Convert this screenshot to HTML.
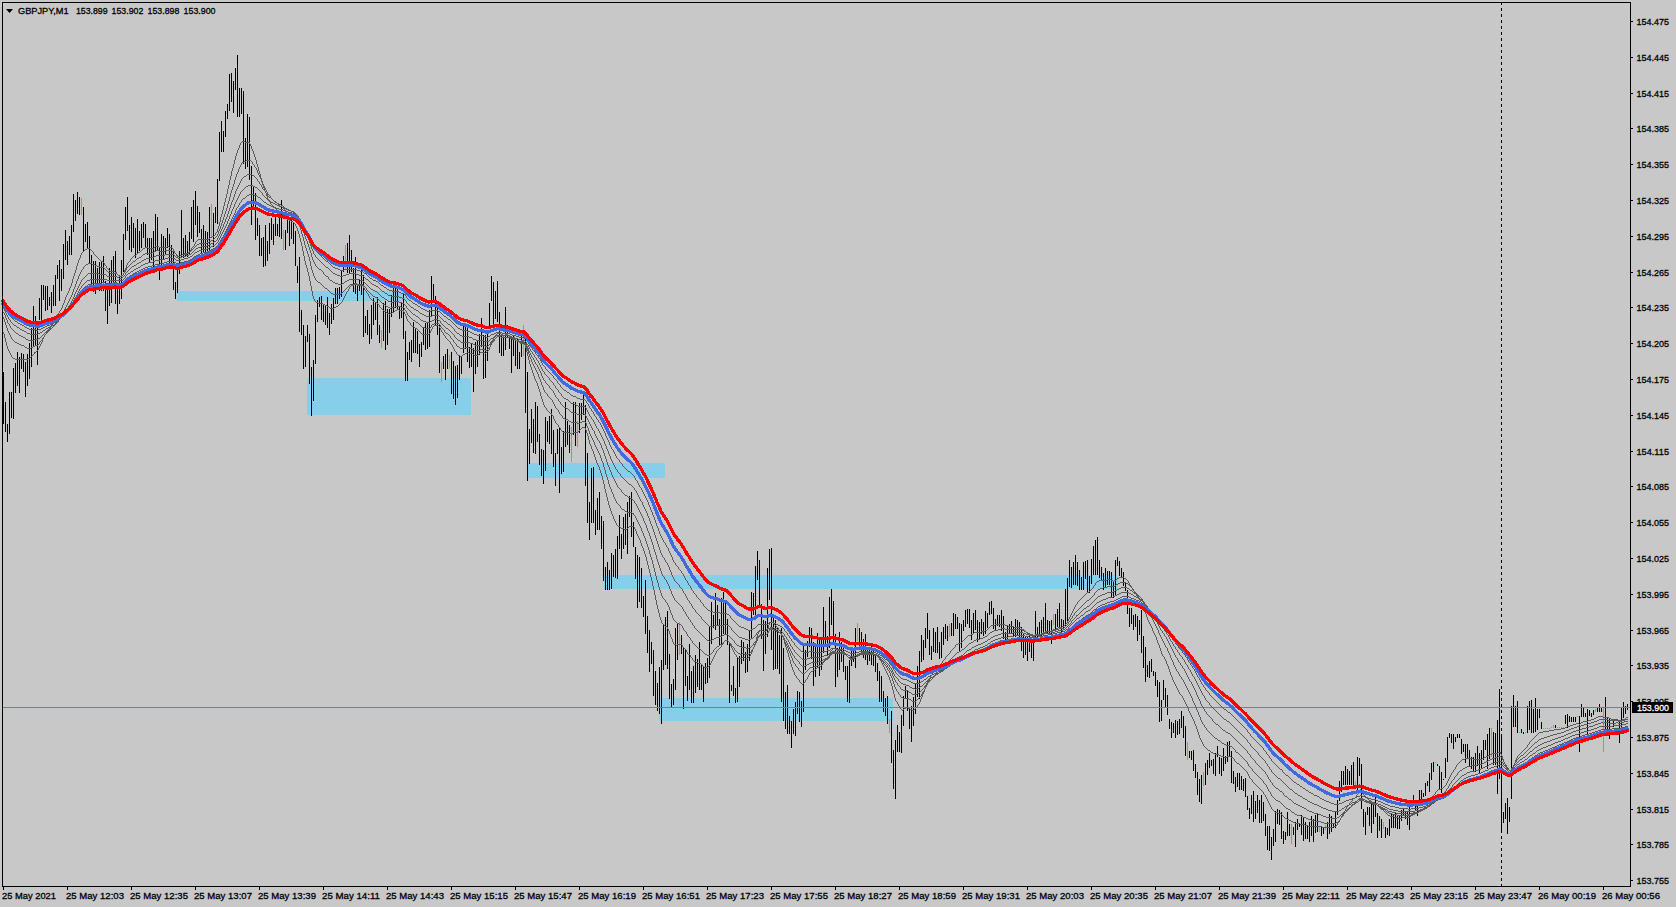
<!DOCTYPE html>
<html><head><meta charset="utf-8"><title>GBPJPY,M1</title>
<style>html,body{margin:0;padding:0;background:#c8c8c8;overflow:hidden}svg{display:block}text{font-family:"Liberation Sans",sans-serif;font-size:9.4px;fill:#000;stroke:#000;stroke-width:.3px}</style></head><body>
<svg width="1676" height="907" viewBox="0 0 1676 907">
<rect width="1676" height="907" fill="#c8c8c8"/>
<g fill="#87ceeb" shape-rendering="crispEdges"><rect x="177" y="291" width="233" height="10"/><rect x="307" y="378" width="164" height="37"/><rect x="527" y="463" width="138" height="15"/><rect x="604" y="575" width="514" height="14"/><rect x="659" y="698" width="234" height="23"/></g>
<path d="M3 372v52M5 402v30M7 424v18M9 392v42M11 392v26M13 368v51M15 363v30M17 352v34M19 357v36M21 353v16M23 354v18M25 362v35M27 354v32M29 343v36M31 328v39M33 306v41M35 316v29M37 326v39M39 298v22M41 285v35M43 285v15M45 286v25M47 286v24M49 297v9M51 292v21M53 285v21M55 275v31M57 265v14M59 260v41M61 269v22M63 244v35M65 230v30M67 241v24M69 236v19M71 225v30M73 194v38M75 200v21M77 192v22M79 197v18M83 207v45M85 224v18M87 222v27M89 236v27M91 255v31M93 261v31M95 261v33M97 268v21M99 262v29M101 262v29M103 256v35M105 281v30M107 284v40M109 268v38M111 260v43M113 256v27M115 251v53M117 287v27M119 277v27M121 260v39M123 234v38M125 207v33M127 197v34M129 225v25M131 217v35M133 223v25M135 228v30M137 219v34M139 231v20M141 224v24M143 222v16M145 224v24M147 238v17M149 238v24M151 238v22M153 231v36M155 214v37M157 217v33M159 247v33M161 234v31M163 236v24M165 238v16M167 228v20M169 234v29M171 245v24M173 250v40M175 282v17M177 267v26M179 251v23M181 210v47M183 238v20M185 235v22M187 241v16M189 232v22M191 207v32M193 200v42M195 191v34M197 206v31M199 212v21M201 229v27M203 225v28M205 231v23M207 232v23M209 207v45M213 213v34M215 207v16M217 179v45M219 132v49M221 121v31M223 131v21M225 111v26M227 104v15M229 74v37M231 73v29M233 81v32M235 68v22M237 55v62M239 88v29M241 88v26M243 91v73M245 138v31M247 114v53M249 117v63M251 166v59M253 186v24M255 193v47M257 218v18M259 225v31M261 238v18M263 237v30M265 225v41M267 241v20M269 223v31M271 218v22M273 224v21M275 217v19M277 224v12M279 217v20M281 200v39M285 230v20M287 219v14M289 220v26M291 220v19M293 222v22M295 231v35M297 266v17M299 257v75M301 310v25M303 325v44M305 336v31M307 325v17M309 334v50M311 367v49M313 360v41M315 315v49M317 300v22M319 297v10M321 296v24M323 304v18M325 306v19M327 297v31M329 313v22M331 304v20M333 298v22M335 288v16M337 288v16M339 287v12M341 271v26M343 256v16M347 243v30M349 235v38M351 250v22M353 268v24M355 257v37M357 285v16M359 280v11M361 269v26M363 275v62M365 316v17M367 310v25M369 324v20M371 305v34M373 298v27M375 302v18M377 297v38M379 325v18M383 303v38M385 301v49M387 309v36M389 309v24M391 295v22M393 288v24M395 285v23M397 289v21M399 306v13M401 303v15M403 293v46M405 331v50M407 352v29M409 342v18M411 340v22M413 322v31M415 329v24M417 331v23M419 344v23M421 342v15M423 328v17M425 323v27M427 322v27M429 310v37M431 276v41M433 284v19M435 296v29M437 304v31M439 325v48M443 356v13M445 354v26M447 349v20M451 352v42M453 361v38M455 366v39M457 365v33M459 355v25M461 356v18M463 326v27M465 326v23M467 328v34M469 347v21M471 344v23M473 348v44M475 342v32M477 340v27M479 334v21M481 318v29M483 335v44M485 335v43M487 334v27M489 303v24M491 276v25M493 282v43M495 291v28M497 281v41M499 312v41M501 335v21M503 337v19M505 307v43M507 325v13M509 338v11M511 338v35M513 335v21M515 340v26M517 339v30M519 352v17M521 335v22M525 334v79M527 372v109M529 429v35M531 409v34M533 419v34M535 402v52M537 406v36M539 434v31M541 449v27M543 450v34M545 417v54M547 421v21M549 416v28M551 409v45M553 430v37M555 453v33M557 429v25M559 428v65M561 447v27M563 431v41M565 402v45M567 421v24M569 425v28M573 402v33M575 402v44M579 403v30M581 403v17M583 395v20M585 405v81M587 453v70M589 502v38M591 468v55M593 467v56M595 510v25M597 498v32M599 492v38M601 516v33M603 521v60M605 567v23M607 562v28M609 570v20M611 553v36M613 555v22M615 549v29M617 536v43M619 515v34M621 534v25M623 517v32M625 514v31M627 502v52M629 496v21M631 492v45M633 522v25M635 547v32M637 555v53M639 557v45M641 568v40M643 596v21M645 580v54M647 616v37M649 630v42M651 642v22M653 650v46M655 671v34M657 683v28M659 667v47M661 660v64M663 624v46M665 617v48M667 611v58M669 654v45M671 684v23M673 679v26M675 628v62M677 624v36M681 635v19M683 647v62M685 650v36M687 676v25M689 644v46M691 671v32M693 666v37M695 655v38M697 659v28M699 642v48M701 665v25M703 667v35M705 663v21M707 658v25M709 627v51M711 602v42M713 615v13M715 593v37M717 605v20M719 619v26M721 598v47M723 592v42M725 600v34M727 619v26M729 642v61M731 685v6M733 666v30M735 688v15M737 658v44M739 656v31M741 640v24M743 642v19M745 652v21M747 644v28M749 630v31M751 592v47M753 593v22M755 566v49M757 551v29M759 560v48M761 604v35M763 620v51M765 621v33M767 568v69M769 549v51M771 548v102M773 617v53M775 620v49M777 628v41M779 635v39M781 628v74M783 648v73M785 692v37M787 685v49M789 716v18M791 721v27M793 709v25M795 702v34M797 691v23M799 692v30M801 701v26M803 645v67M805 650v20M807 641v16M809 627v20M811 628v31M813 642v44M815 645v32M817 633v34M819 637v39M821 639v31M823 607v46M825 621v26M827 636v19M829 597v51M831 589v36M833 601v42M835 634v53M837 648v29M839 632v38M841 642v20M843 648v24M845 666v14M847 666v36M849 660v43M851 651v15M853 648v14M855 628v40M859 628v22M861 632v22M863 639v19M865 634v26M867 650v15M869 650v11M871 645v20M873 650v16M875 654v18M877 663v18M879 671v31M881 676v26M883 691v21M885 698v18M887 696v28M891 711v52M893 750v39M895 740v59M897 725v27M899 732v20M901 715v38M903 696v30M905 686v13M907 690v21M909 709v20M911 706v36M913 697v29M915 683v31M917 666v31M919 651v48M921 635v27M923 640v20M925 628v20M927 613v26M929 630v25M931 646v14M933 628v24M935 632v21M937 627v26M939 642v17M941 632v26M943 627v18M945 624v15M947 626v15M951 623v13M953 613v23M955 614v15M957 617v12M959 623v28M961 624v24M963 620v11M965 610v17M967 609v15M969 609v19M971 620v20M973 613v21M975 610v20M977 620v22M979 622v18M981 619v15M983 622v14M985 611v23M987 613v15M989 602v13M991 601v13M993 608v21M995 619v11M997 615v11M999 615v12M1001 610v21M1003 616v23M1005 632v8M1007 626v13M1009 624v10M1011 621v13M1013 627v10M1015 619v18M1017 620v15M1019 622v15M1021 627v24M1023 633v25M1025 636v19M1027 637v24M1029 636v16M1031 637v21M1033 636v25M1035 611v26M1037 627v10M1039 622v14M1041 620v16M1043 617v16M1045 603v29M1047 620v13M1049 621v13M1051 620v24M1055 614v15M1057 609v18M1059 603v24M1061 619v15M1063 620v9M1065 589v37M1067 578v43M1069 560v27M1071 567v21M1073 562v23M1075 555v30M1077 562v24M1079 570v20M1081 577v13M1083 562v28M1085 561v18M1087 560v32M1089 576v17M1091 559v25M1093 546v29M1095 540v35M1097 537v38M1099 560v18M1101 567v13M1103 573v17M1105 568v20M1107 571v14M1109 571v14M1111 572v25M1113 581v17M1115 560v35M1117 557v9M1119 561v15M1121 568v10M1123 572v14M1125 583v8M1127 590v24M1129 608v19M1131 608v16M1133 615v15M1135 614v13M1137 616v25M1139 620v15M1141 610v43M1143 636v32M1145 647v35M1147 665v12M1149 661v17M1151 659v13M1153 671v5M1155 672v14M1157 680v17M1159 682v40M1161 700v21M1163 680v20M1165 688v19M1167 695v20M1169 719v10M1171 722v16M1173 723v10M1175 720v18M1177 721v14M1179 719v15M1181 711v17M1183 716v22M1185 726v30M1189 751v7M1191 751v9M1193 750v21M1195 764v14M1197 772v23M1199 779v23M1201 775v29M1205 763v22M1207 760v15M1209 753v15M1211 760v6M1213 759v15M1215 753v23M1217 746v11M1219 757v17M1221 758v18M1223 748v23M1225 756v8M1227 742v20M1229 741v15M1231 751v32M1233 771v13M1235 777v15M1237 773v14M1239 773v17M1241 776v14M1243 779v12M1245 778v19M1247 796v14M1249 808v11M1251 795v19M1253 791v31M1255 801v18M1257 795v18M1259 800v23M1261 795v28M1263 802v19M1265 814v22M1267 826v24M1269 826v25M1271 837v23M1273 829v17M1275 811v31M1277 809v15M1279 810v15M1281 812v27M1283 831v13M1285 832v8M1287 812v24M1289 824v12M1293 827v8M1295 822v25M1297 819v11M1299 823v4M1301 815v20M1303 818v23M1305 822v17M1307 826v13M1309 822v20M1311 816v20M1313 819v23M1315 815v18M1317 814v18M1321 826v10M1323 828v6M1327 822v17M1329 814v20M1331 816v16M1333 824v4M1335 812v16M1337 800v15M1339 781v20M1341 771v21M1343 771v14M1345 766v19M1347 769v16M1349 771v14M1351 765v20M1353 762v23M1357 757v33M1359 758v18M1361 764v45M1363 809v18M1365 812v23M1367 807v8M1369 807v19M1371 802v31M1373 803v21M1375 796v21M1377 813v25M1379 816v15M1381 819v19M1385 827v11M1387 828v7M1389 819v17M1391 814v14M1393 814v14M1395 813v15M1397 815v14M1399 816v13M1401 810v11M1403 809v7M1405 812v7M1407 812v13M1409 802v28M1411 801v5M1413 795v10M1415 803v8M1417 803v13M1419 790v11M1421 790v11M1423 793v4M1425 783v13M1427 781v5M1429 773v19M1431 763v17M1433 762v10M1437 764v2M1439 766v23M1441 772v21M1443 779v1M1445 758v20M1447 737v25M1449 733v5M1451 734v9M1453 734v15M1455 737v5M1457 734v4M1459 734v4M1461 739v15M1463 744v8M1465 744v19M1467 744v15M1469 750v16M1471 757v12M1473 757v14M1475 753v19M1477 746v20M1479 753v20M1481 750v18M1483 740v20M1485 740v10M1487 734v35M1489 728v31M1493 732v33M1495 733v32M1497 720v74M1499 689v90M1501 737v96M1503 812v11M1505 803v16M1507 798v36M1509 807v15M1511 706v93M1513 695v32M1515 706v21M1517 701v32M1521 729v4M1523 732v2M1527 706v27M1529 701v29M1531 700v33M1533 709v24M1535 698v34M1537 709v21M1539 709v9M1541 722v7M1555 725v3M1565 715v9M1567 714v14M1569 716v6M1571 717v5M1573 717v5M1575 717v5M1579 716v36M1581 704v13M1583 707v10M1585 713v4M1587 709v25M1589 710v6M1591 713v4M1593 710v5M1597 707v5M1599 704v8M1601 707v5M1605 697v34M1607 717v14M1609 719v20M1613 720v7M1619 720v23M1621 707v21M1623 702v16M1625 706v8M1627 704v6" stroke="#000" stroke-width="1" fill="none" shape-rendering="crispEdges" transform="translate(.5 0)"/>
<path d="M81 198v17M211 204v33M283 230v20M345 245v24M381 330v18M441 362v20M449 355v14M523 325v31M571 427v35M577 421v26M679 622v33M857 623v18M889 719v14M949 624v13M1053 614v11M1187 742v18M1203 772v14M1291 824v20M1319 826v6M1325 825v5M1355 781v5M1383 822v7M1435 762v1M1491 728v29M1519 732v1M1525 732v1M1543 728v1M1545 728v1M1547 728v1M1549 728v1M1551 727v1M1553 725v3M1557 727v1M1559 727v1M1561 727v1M1563 727v1M1577 716v1M1595 709v3M1603 707v45M1611 726v1M1615 719v1M1617 720v1" stroke="#0f0" stroke-width="1" fill="none" shape-rendering="crispEdges" transform="translate(.5 0)"/>
<rect x="3" y="707" width="1627" height="1" fill="#708090" shape-rendering="crispEdges"/>
<path d="M1501.5 2V886" stroke="#000" stroke-width="1" stroke-dasharray="3 3" shape-rendering="crispEdges"/>
<g fill="none" stroke="#5a5a5a" stroke-width="1" shape-rendering="crispEdges" transform="translate(.5 0)"><path d="M3 332v2M4 334v4M5 338v4M6 342v4M7 346v3M8 349v2M9 351v2M10 353v2M11 355v2M12 357v1M13 358v1M14 358v1M15 359v1M16 359v1M17 359v1M18 359v1M19 359v1M20 359v1M21 359v1M22 359v1M23 359v1M24 359v1M25 359v1M26 359v1M27 359v1M28 358v1M29 358v1M30 357v1M31 356v1M32 355v1M33 354v1M34 352v2M35 352v1M36 351v1M37 350v1M38 348v2M39 346v2M40 344v2M41 342v2M42 339v3M43 337v2M44 335v2M45 334v1M46 332v2M47 330v2M48 329v1M49 328v1M50 326v2M51 325v1M52 324v1M53 322v2M54 321v1M55 319v2M56 316v3M57 314v2M58 313v1M59 311v2M60 310v1M61 308v2M62 305v3M63 303v2M64 300v3M65 297v3M66 295v2M67 293v2M68 291v2M69 288v3M70 286v2M71 283v3M72 279v4M73 276v3M74 273v3M75 270v3M76 266v4M77 263v3M78 260v3M79 258v2M80 255v3M81 253v2M82 252v1M83 251v1M84 250v1M85 249v1M86 249v1M87 248v1M88 248v1M89 248v1M90 249v1M91 250v1M92 251v1M93 252v2M94 254v1M95 255v1M96 256v1M97 257v1M98 258v1M99 259v1M100 260v1M101 261v1M102 261v1M103 262v1M104 263v2M105 265v1M106 266v2M107 268v1M108 269v1M109 270v1M110 271v1M111 271v1M112 271v1M113 271v1M114 271v1M115 272v1M116 272v2M117 274v1M118 275v1M119 276v1M120 276v1M121 276v1M122 275v1M123 273v2M124 270v3M125 268v2M126 265v3M127 263v2M128 262v1M129 261v1M130 259v2M131 258v1M132 257v1M133 256v1M134 255v1M135 255v1M136 254v1M137 253v1M138 252v1M139 252v1M140 251v1M141 250v1M142 249v1M143 248v1M144 248v1M145 247v1M146 247v1M147 247v1M148 248v1M149 248v1M150 248v1M151 248v1M152 248v1M153 248v1M154 247v1M155 246v1M156 246v1M157 246v1M158 246v1M159 247v1M160 247v1M161 247v1M162 247v1M163 247v1M164 247v1M165 247v1M166 247v1M167 246v1M168 246v1M169 247v1M170 247v1M171 247v1M172 248v1M173 249v2M174 251v2M175 253v1M176 254v2M177 256v1M178 256v1M179 256v1M180 255v1M181 255v1M182 254v1M183 254v1M184 253v1M185 253v1M186 253v1M187 253v1M188 252v1M189 251v1M190 250v1M191 248v2M192 247v1M193 246v1M194 244v2M195 242v2M196 241v1M197 240v1M198 239v1M199 239v1M200 239v1M201 239v1M202 239v1M203 239v1M204 239v1M205 239v1M206 239v1M207 239v1M208 239v1M209 238v1M210 237v1M211 237v1M212 236v1M213 236v1M214 235v1M215 233v2M216 232v1M217 229v3M218 226v3M219 222v4M220 217v5M221 214v3M222 210v4M223 206v4M224 202v4M225 198v4M226 194v4M227 189v5M228 185v4M229 180v5M230 176v4M231 171v5M232 168v3M233 164v4M234 160v4M235 156v4M236 153v3M237 150v3M238 148v2M239 145v3M240 143v2M241 142v1M242 141v1M243 141v1M244 141v1M245 142v1M246 142v1M247 142v1M248 142v1M249 142v2M250 144v2M251 146v3M252 149v2M253 151v3M254 154v3M255 157v3M256 160v4M257 164v3M258 167v4M259 171v3M260 174v4M261 178v3M262 181v4M263 185v3M264 188v3M265 191v2M266 193v3M267 196v3M268 199v2M269 201v1M270 202v2M271 204v1M272 205v1M273 206v1M274 207v1M275 208v1M276 209v1M277 210v1M278 211v1M279 212v1M280 213v1M281 213v1M282 214v1M283 215v1M284 216v1M285 217v1M286 218v1M287 219v1M288 219v1M289 220v1M290 220v1M291 221v1M292 221v1M293 222v1M294 223v1M295 224v2M296 226v2M297 228v3M298 231v3M299 234v4M300 238v4M301 242v4M302 246v5M303 251v5M304 256v5M305 261v4M306 265v3M307 268v4M308 272v4M309 276v5M310 281v5M311 286v5M312 291v5M313 296v3M314 299v2M315 301v1M316 302v1M317 302v1M318 303v1M319 303v1M320 303v1M321 303v1M322 303v1M323 304v1M324 304v1M325 305v1M326 305v1M327 306v1M328 306v1M329 307v1M330 308v1M331 308v1M332 308v1M333 308v1M334 307v1M335 307v1M336 306v1M337 306v1M338 305v1M339 304v1M340 303v1M341 302v1M342 300v2M343 298v2M344 296v2M345 294v2M346 292v2M347 291v1M348 289v2M349 287v2M350 286v1M351 285v1M352 285v1M353 285v1M354 284v1M355 284v1M356 284v1M357 285v1M358 285v1M359 285v1M360 285v1M361 285v1M362 285v1M363 286v2M364 288v2M365 290v1M366 291v2M367 293v1M368 294v2M369 296v2M370 298v1M371 299v1M372 300v1M373 301v1M374 301v1M375 302v1M376 302v1M377 303v1M378 304v1M379 305v2M380 307v1M381 308v1M382 309v1M383 310v1M384 311v1M385 311v1M386 312v1M387 313v1M388 313v1M389 314v1M390 313v1M391 313v1M392 312v1M393 312v1M394 311v1M395 310v1M396 310v1M397 309v1M398 309v1M399 310v1M400 310v1M401 310v1M402 310v1M403 310v2M404 312v2M405 314v2M406 316v3M407 319v2M408 321v1M409 322v1M410 323v2M411 325v1M412 326v1M413 326v1M414 327v1M415 328v1M416 328v1M417 329v1M418 330v1M419 331v1M420 332v1M421 333v1M422 334v1M423 334v1M424 334v1M425 334v1M426 334v1M427 334v1M428 334v1M429 333v1M430 331v2M431 329v2M432 327v2M433 326v1M434 325v1M435 325v1M436 325v1M437 325v1M438 325v1M439 326v2M440 328v2M441 330v2M442 332v1M443 333v2M444 335v1M445 336v2M446 338v1M447 339v1M448 340v1M449 341v1M450 342v2M451 344v1M452 345v2M453 347v2M454 349v2M455 351v1M456 352v2M457 354v1M458 355v1M459 355v1M460 356v1M461 356v1M462 355v1M463 354v1M464 354v1M465 353v1M466 353v1M467 352v1M468 352v1M469 353v1M470 353v1M471 353v1M472 353v1M473 354v1M474 355v1M475 355v1M476 355v1M477 355v1M478 354v1M479 353v1M480 352v1M481 352v1M482 352v1M483 352v1M484 352v1M485 353v1M486 352v1M487 351v1M488 350v1M489 347v3M490 344v3M491 342v2M492 340v2M493 338v2M494 337v1M495 335v2M496 334v1M497 333v1M498 333v1M499 333v1M500 333v1M501 334v1M502 334v1M503 335v1M504 335v1M505 334v1M506 334v1M507 334v1M508 335v1M509 335v1M510 336v1M511 337v1M512 337v1M513 338v1M514 338v1M515 339v1M516 340v1M517 341v1M518 341v1M519 342v1M520 343v1M521 343v1M522 343v1M523 343v1M524 344v1M525 345v3M526 348v4M527 352v4M528 356v4M529 360v4M530 364v3M531 367v3M532 370v3M533 373v3M534 376v3M535 379v2M536 381v2M537 383v3M538 386v3M539 389v3M540 392v4M541 396v3M542 399v3M543 402v3M544 405v2M545 407v1M546 408v2M547 410v1M548 411v1M549 412v1M550 413v1M551 413v2M552 415v1M553 416v3M554 419v2M555 421v2M556 423v1M557 424v1M558 425v2M559 427v1M560 428v2M561 430v1M562 431v1M563 432v1M564 432v1M565 432v1M566 432v1M567 432v1M568 432v1M569 433v1M570 433v1M571 434v1M572 433v1M573 432v1M574 432v1M575 432v1M576 432v1M577 432v1M578 431v1M579 430v1M580 429v1M581 428v1M582 427v1M583 427v1M584 427v1M585 428v2M586 430v3M587 433v3M588 436v4M589 440v4M590 444v2M591 446v3M592 449v2M593 451v3M594 454v3M595 457v3M596 460v3M597 463v2M598 465v2M599 467v3M600 470v3M601 473v3M602 476v4M603 480v4M604 484v5M605 489v4M606 493v4M607 497v4M608 501v4M609 505v3M610 508v3M611 511v3M612 514v2M613 516v3M614 519v2M615 521v2M616 523v2M617 525v1M618 526v1M619 526v1M620 527v1M621 528v1M622 528v1M623 528v1M624 529v1M625 529v1M626 529v1M627 528v1M628 527v1M629 526v1M630 526v1M631 526v1M632 526v1M633 526v1M634 527v2M635 529v2M636 531v3M637 534v2M638 536v2M639 538v2M640 540v3M641 543v3M642 546v2M643 548v3M644 551v3M645 554v3M646 557v4M647 561v4M648 565v4M649 569v4M650 573v4M651 577v4M652 581v5M653 586v4M654 590v5M655 595v5M656 600v5M657 605v4M658 609v4M659 613v4M660 617v3M661 620v3M662 623v1M663 624v1M664 625v1M665 626v1M666 626v1M667 627v2M668 629v2M669 631v3M670 634v3M671 637v2M672 639v3M673 642v2M674 644v1M675 644v1M676 645v1M677 644v1M678 644v1M679 644v1M680 644v1M681 644v1M682 645v2M683 647v1M684 648v1M685 649v1M686 650v2M687 652v2M688 654v1M689 654v1M690 655v2M691 657v1M692 658v2M693 660v1M694 661v1M695 661v1M696 662v1M697 662v1M698 663v1M699 663v1M700 663v1M701 664v1M702 665v1M703 666v1M704 667v1M705 667v1M706 667v1M707 667v1M708 666v1M709 665v1M710 663v2M711 661v2M712 659v2M713 657v2M714 655v2M715 653v2M716 651v2M717 650v1M718 649v1M719 648v1M720 647v1M721 645v2M722 644v1M723 642v2M724 641v1M725 640v1M726 640v1M727 640v1M728 641v1M729 642v2M730 644v2M731 646v2M732 648v2M733 650v2M734 652v2M735 654v1M736 655v2M737 657v1M738 658v1M739 658v1M740 658v1M741 658v1M742 657v1M743 657v1M744 657v1M745 658v1M746 658v1M747 658v1M748 657v1M749 656v1M750 654v2M751 652v2M752 649v3M753 647v2M754 644v3M755 641v3M756 637v4M757 634v3M758 632v2M759 630v2M760 630v1M761 630v1M762 630v1M763 631v1M764 631v1M765 631v1M766 629v2M767 628v1M768 625v3M769 623v2M770 622v1M771 622v1M772 622v1M773 623v1M774 624v1M775 625v1M776 626v1M777 627v1M778 628v2M779 630v1M780 631v2M781 633v2M782 635v2M783 637v3M784 640v4M785 644v3M786 647v3M787 650v3M788 653v4M789 657v3M790 660v4M791 664v3M792 667v3M793 670v2M794 672v3M795 675v1M796 676v2M797 678v1M798 679v1M799 680v2M800 682v1M801 683v1M802 684v1M803 683v1M804 682v1M805 680v2M806 679v1M807 677v2M808 675v2M809 673v2M810 672v1M811 671v1M812 671v1M813 670v1M814 670v1M815 669v1M816 668v1M817 667v1M818 667v1M819 666v1M820 666v1M821 665v1M822 663v2M823 661v2M824 660v1M825 659v1M826 659v1M827 657v2M828 656v1M829 654v2M830 651v3M831 650v1M832 648v2M833 648v1M834 648v1M835 649v1M836 649v1M837 650v1M838 650v1M839 650v1M840 650v1M841 651v1M842 651v1M843 651v1M844 652v1M845 653v1M846 654v2M847 656v1M848 657v1M849 658v1M850 659v1M851 659v1M852 659v1M853 658v1M854 658v1M855 657v1M856 656v1M857 655v1M858 654v1M859 653v1M860 653v1M861 652v1M862 652v1M863 652v1M864 652v1M865 652v1M866 652v1M867 652v1M868 652v1M869 653v1M870 653v1M871 653v1M872 653v1M873 653v1M874 654v1M875 654v1M876 655v1M877 656v1M878 657v1M879 658v2M880 660v1M881 661v2M882 663v2M883 665v2M884 667v2M885 669v2M886 671v2M887 673v2M888 675v2M889 677v3M890 680v3M891 683v3M892 686v4M893 690v4M894 694v4M895 698v3M896 701v1M897 702v2M898 704v2M899 706v2M900 708v1M901 709v1M902 710v1M903 709v1M904 708v1M905 708v1M906 707v1M907 707v1M908 708v1M909 708v1M910 709v1M911 709v1M912 710v1M913 710v1M914 709v1M915 708v1M916 707v1M917 705v2M918 704v1M919 702v2M920 699v3M921 697v2M922 694v3M923 692v2M924 689v3M925 686v3M926 683v3M927 681v2M928 679v2M929 678v1M930 676v2M931 675v1M932 673v2M933 672v1M934 670v2M935 669v1M936 667v2M937 666v1M938 665v1M939 665v1M940 664v1M941 663v1M942 661v2M943 660v1M944 659v1M945 657v2M946 656v1M947 655v1M948 654v1M949 653v1M950 651v2M951 650v1M952 649v1M953 648v1M954 647v1M955 645v2M956 644v1M957 644v1M958 643v1M959 643v1M960 643v1M961 642v1M962 641v1M963 640v1M964 639v1M965 638v1M966 637v1M967 636v1M968 635v1M969 635v1M970 635v1M971 634v1M972 634v1M973 633v1M974 632v1M975 632v1M976 632v1M977 632v1M978 632v1M979 632v1M980 632v1M981 631v1M982 631v1M983 631v1M984 631v1M985 630v1M986 630v1M987 629v1M988 628v1M989 627v1M990 626v1M991 625v1M992 625v1M993 625v1M994 625v1M995 624v1M996 624v1M997 624v1M998 624v1M999 624v1M1000 624v1M1001 624v1M1002 624v1M1003 624v1M1004 624v1M1005 625v1M1006 625v1M1007 625v1M1008 626v1M1009 626v1M1010 626v1M1011 626v1M1012 626v1M1013 626v1M1014 627v1M1015 627v1M1016 627v1M1017 627v1M1018 627v1M1019 627v1M1020 627v1M1021 628v1M1022 629v1M1023 629v1M1024 630v1M1025 631v1M1026 632v1M1027 633v1M1028 633v1M1029 634v1M1030 634v1M1031 635v1M1032 636v1M1033 636v1M1034 636v1M1035 635v1M1036 635v1M1037 635v1M1038 635v1M1039 634v1M1040 634v1M1041 634v1M1042 633v1M1043 632v1M1044 632v1M1045 631v1M1046 631v1M1047 631v1M1048 631v1M1049 631v1M1050 631v1M1051 630v1M1052 630v1M1053 629v1M1054 629v1M1055 629v1M1056 628v1M1057 628v1M1058 627v1M1059 627v1M1060 627v1M1061 627v1M1062 626v1M1063 626v1M1064 625v1M1065 624v1M1066 623v1M1067 621v2M1068 619v2M1069 617v2M1070 615v2M1071 613v2M1072 611v2M1073 609v2M1074 607v2M1075 605v2M1076 604v1M1077 602v2M1078 601v1M1079 600v1M1080 599v1M1081 598v1M1082 597v1M1083 596v1M1084 595v1M1085 594v1M1086 593v1M1087 592v1M1088 592v1M1089 591v1M1090 590v1M1091 589v1M1092 588v1M1093 586v2M1094 585v1M1095 583v2M1096 582v1M1097 581v1M1098 581v1M1099 580v1M1100 580v1M1101 580v1M1102 580v1M1103 580v1M1104 580v1M1105 580v1M1106 580v1M1107 579v1M1108 579v1M1109 579v1M1110 579v1M1111 580v1M1112 580v1M1113 581v1M1114 580v1M1115 580v1M1116 579v1M1117 578v1M1118 578v1M1119 577v1M1120 577v1M1121 577v1M1122 577v1M1123 577v1M1124 578v1M1125 578v1M1126 579v1M1127 580v1M1128 581v2M1129 583v2M1130 585v1M1131 586v2M1132 588v2M1133 590v1M1134 591v2M1135 593v1M1136 594v2M1137 596v1M1138 597v2M1139 599v1M1140 600v2M1141 602v2M1142 604v2M1143 606v3M1144 609v2M1145 611v3M1146 614v3M1147 617v3M1148 620v2M1149 622v2M1150 624v2M1151 626v2M1152 628v3M1153 631v2M1154 633v2M1155 635v2M1156 637v3M1157 640v3M1158 643v2M1159 645v3M1160 648v3M1161 651v3M1162 654v2M1163 656v1M1164 657v2M1165 659v2M1166 661v3M1167 664v2M1168 666v3M1169 669v3M1170 672v3M1171 675v2M1172 677v3M1173 680v2M1174 682v2M1175 684v2M1176 686v2M1177 688v2M1178 690v2M1179 692v2M1180 694v1M1181 695v1M1182 696v2M1183 698v2M1184 700v2M1185 702v2M1186 704v2M1187 706v2M1188 708v3M1189 711v2M1190 713v2M1191 715v2M1192 717v2M1193 719v2M1194 721v3M1195 724v2M1196 726v3M1197 729v3M1198 732v3M1199 735v3M1200 738v2M1201 740v2M1202 742v2M1203 744v2M1204 746v1M1205 747v1M1206 748v1M1207 749v1M1208 750v1M1209 750v1M1210 751v1M1211 752v1M1212 752v1M1213 753v1M1214 753v1M1215 754v1M1216 754v1M1217 754v1M1218 754v1M1219 755v1M1220 755v1M1221 756v1M1222 756v1M1223 756v1M1224 757v1M1225 757v1M1226 757v1M1227 756v1M1228 756v1M1229 756v1M1230 756v1M1231 757v1M1232 757v1M1233 758v1M1234 759v2M1235 761v1M1236 762v1M1237 763v1M1238 763v1M1239 764v1M1240 765v1M1241 766v1M1242 767v1M1243 768v1M1244 769v1M1245 770v1M1246 771v1M1247 772v2M1248 774v2M1249 776v2M1250 778v1M1251 779v1M1252 780v2M1253 782v1M1254 783v1M1255 784v1M1256 785v1M1257 786v1M1258 787v1M1259 788v1M1260 789v1M1261 790v1M1262 791v1M1263 792v2M1264 794v1M1265 795v2M1266 797v2M1267 799v2M1268 801v2M1269 803v2M1270 805v2M1271 807v2M1272 809v1M1273 810v1M1274 811v1M1275 812v1M1276 812v1M1277 812v1M1278 813v1M1279 813v1M1280 813v1M1281 814v1M1282 815v1M1283 816v1M1284 817v1M1285 818v1M1286 818v1M1287 819v1M1288 819v1M1289 820v1M1290 820v1M1291 821v1M1292 821v1M1293 822v1M1294 822v1M1295 823v1M1296 823v1M1297 823v1M1298 823v1M1299 823v1M1300 824v1M1301 824v1M1302 824v1M1303 824v1M1304 824v1M1305 825v1M1306 825v1M1307 825v1M1308 826v1M1309 826v1M1310 826v1M1311 826v1M1312 826v1M1313 826v1M1314 826v1M1315 826v1M1316 826v1M1317 826v1M1318 826v1M1319 826v1M1320 826v1M1321 826v1M1322 827v1M1323 827v1M1324 827v1M1325 827v1M1326 827v1M1327 827v1M1328 827v1M1329 827v1M1330 827v1M1331 827v1M1332 827v1M1333 826v1M1334 826v1M1335 826v1M1336 825v1M1337 823v2M1338 822v1M1339 820v2M1340 818v2M1341 816v2M1342 814v2M1343 813v1M1344 811v2M1345 809v2M1346 807v2M1347 806v1M1348 805v1M1349 803v2M1350 802v1M1351 801v1M1352 799v2M1353 798v1M1354 798v1M1355 797v1M1356 795v2M1357 794v1M1358 793v1M1359 792v1M1360 792v1M1361 792v1M1362 792v2M1363 794v1M1364 795v1M1365 796v1M1366 797v1M1367 798v1M1368 799v1M1369 800v1M1370 800v1M1371 801v1M1372 802v1M1373 803v1M1374 803v1M1375 803v1M1376 804v1M1377 805v1M1378 806v1M1379 807v1M1380 807v2M1381 809v1M1382 809v1M1383 810v1M1384 811v1M1385 812v1M1386 813v1M1387 814v1M1388 815v1M1389 815v1M1390 816v1M1391 816v1M1392 816v1M1393 816v1M1394 817v1M1395 817v1M1396 817v1M1397 817v1M1398 818v1M1399 818v1M1400 818v1M1401 818v1M1402 817v1M1403 817v1M1404 817v1M1405 817v1M1406 817v1M1407 817v1M1408 817v1M1409 817v1M1410 816v1M1411 815v1M1412 815v1M1413 814v1M1414 814v1M1415 813v1M1416 813v1M1417 813v1M1418 812v1M1419 811v1M1420 810v1M1421 809v1M1422 809v1M1423 808v1M1424 807v1M1425 806v1M1426 805v1M1427 804v1M1428 803v1M1429 801v2M1430 800v1M1431 798v2M1432 797v1M1433 795v2M1434 794v1M1435 792v2M1436 791v1M1437 790v1M1438 789v1M1439 789v1M1440 789v1M1441 788v1M1442 788v1M1443 787v1M1444 786v1M1445 785v1M1446 783v2M1447 781v2M1448 779v2M1449 777v2M1450 775v2M1451 773v2M1452 772v1M1453 770v2M1454 769v1M1455 767v2M1456 765v2M1457 764v1M1458 763v1M1459 762v1M1460 761v1M1461 760v1M1462 759v1M1463 759v1M1464 759v1M1465 758v1M1466 758v1M1467 758v1M1468 758v1M1469 758v1M1470 758v1M1471 758v1M1472 758v1M1473 759v1M1474 759v1M1475 759v1M1476 759v1M1477 759v1M1478 759v1M1479 759v1M1480 759v1M1481 759v1M1482 758v1M1483 758v1M1484 757v1M1485 757v1M1486 756v1M1487 756v1M1488 755v1M1489 755v1M1490 754v1M1491 754v1M1492 753v1M1493 753v1M1494 753v1M1495 753v1M1496 753v1M1497 753v1M1498 752v1M1499 752v1M1500 752v2M1501 754v2M1502 756v3M1503 759v3M1504 762v2M1505 764v2M1506 766v3M1507 769v2M1508 771v2M1509 773v1M1510 772v2M1511 770v2M1512 768v2M1513 765v3M1514 763v2M1515 760v3M1516 758v2M1517 756v2M1518 755v1M1519 754v1M1520 753v1M1521 752v1M1522 751v1M1523 750v1M1524 749v1M1525 748v1M1526 747v1M1527 745v2M1528 744v1M1529 742v2M1530 741v1M1531 740v1M1532 739v1M1533 738v1M1534 737v1M1535 736v1M1536 735v1M1537 734v1M1538 733v1M1539 732v1M1540 732v1M1541 732v1M1542 732v1M1543 731v1M1544 731v1M1545 731v1M1546 731v1M1547 731v1M1548 731v1M1549 730v1M1550 730v1M1551 730v1M1552 730v1M1553 730v1M1554 729v1M1555 729v1M1556 729v1M1557 729v1M1558 729v1M1559 729v1M1560 729v1M1561 728v1M1562 728v1M1563 728v1M1564 728v1M1565 727v1M1566 727v1M1567 726v1M1568 726v1M1569 726v1M1570 725v1M1571 725v1M1572 725v1M1573 724v1M1574 724v1M1575 724v1M1576 723v1M1577 723v1M1578 723v1M1579 724v1M1580 723v1M1581 722v1M1582 722v1M1583 721v1M1584 721v1M1585 721v1M1586 721v1M1587 721v1M1588 720v1M1589 720v1M1590 720v1M1591 719v1M1592 719v1M1593 719v1M1594 718v1M1595 718v1M1596 717v1M1597 717v1M1598 716v1M1599 716v1M1600 716v1M1601 716v1M1602 716v1M1603 717v1M1604 717v1M1605 717v1M1606 717v1M1607 717v1M1608 717v1M1609 718v1M1610 718v1M1611 719v1M1612 719v1M1613 719v1M1614 719v1M1615 719v1M1616 719v1M1617 719v1M1618 720v1M1619 720v1M1620 720v1M1621 720v1M1622 719v1M1623 719v1M1624 719v1M1625 718v1M1626 717v1M1627 717v1"/><path d="M3 317v2M4 319v3M5 322v3M6 325v3M7 328v3M8 331v2M9 333v2M10 335v2M11 337v2M12 339v1M13 340v1M14 341v1M15 342v1M16 342v1M17 343v1M18 343v1M19 344v1M20 344v1M21 345v1M22 345v1M23 345v1M24 346v1M25 347v1M26 347v1M27 348v1M28 348v1M29 348v1M30 348v1M31 347v1M32 347v1M33 346v1M34 346v1M35 345v1M36 345v1M37 345v1M38 344v1M39 342v2M40 341v1M41 340v1M42 338v2M43 337v1M44 335v2M45 334v1M46 333v1M47 332v1M48 331v1M49 330v1M50 329v1M51 328v1M52 327v1M53 326v1M54 325v1M55 323v2M56 322v1M57 320v2M58 319v1M59 317v2M60 316v1M61 315v1M62 313v2M63 311v2M64 309v2M65 307v2M66 305v2M67 303v2M68 301v2M69 299v2M70 297v2M71 295v2M72 292v3M73 289v3M74 287v2M75 284v3M76 281v3M77 279v2M78 276v3M79 274v2M80 272v2M81 270v2M82 269v1M83 267v2M84 266v1M85 265v1M86 264v1M87 264v1M88 263v1M89 263v1M90 263v1M91 263v1M92 264v1M93 264v1M94 264v1M95 265v1M96 265v1M97 266v1M98 266v1M99 266v1M100 267v1M101 267v1M102 267v1M103 267v1M104 268v1M105 269v1M106 270v1M107 271v1M108 272v1M109 272v1M110 273v1M111 273v1M112 273v1M113 273v1M114 273v1M115 273v1M116 273v1M117 274v1M118 275v1M119 275v1M120 276v1M121 275v1M122 275v1M123 273v2M124 272v1M125 270v2M126 268v2M127 267v1M128 266v1M129 265v1M130 264v1M131 263v1M132 262v1M133 261v1M134 261v1M135 260v1M136 259v1M137 258v1M138 258v1M139 257v1M140 257v1M141 256v1M142 255v1M143 254v1M144 254v1M145 253v1M146 253v1M147 253v1M148 253v1M149 253v1M150 253v1M151 253v1M152 252v1M153 252v1M154 251v1M155 251v1M156 250v1M157 250v1M158 250v1M159 251v1M160 251v1M161 251v1M162 251v1M163 251v1M164 251v1M165 250v1M166 250v1M167 250v1M168 250v1M169 250v1M170 250v1M171 250v1M172 251v1M173 251v1M174 252v1M175 253v1M176 254v1M177 255v1M178 256v1M179 256v1M180 255v1M181 255v1M182 254v1M183 254v1M184 254v1M185 254v1M186 254v1M187 253v1M188 253v1M189 252v1M190 251v1M191 250v1M192 249v1M193 248v1M194 247v1M195 246v1M196 245v1M197 244v1M198 244v1M199 243v1M200 243v1M201 243v1M202 243v1M203 243v1M204 243v1M205 243v1M206 243v1M207 242v1M208 242v1M209 241v1M210 241v1M211 240v1M212 240v1M213 239v1M214 238v1M215 237v1M216 236v1M217 234v2M218 231v3M219 229v2M220 226v3M221 223v3M222 220v3M223 217v3M224 214v3M225 211v3M226 208v3M227 204v4M228 201v3M229 197v4M230 193v4M231 190v3M232 187v3M233 184v3M234 180v4M235 177v3M236 174v3M237 172v2M238 169v3M239 167v2M240 165v2M241 163v2M242 162v1M243 162v1M244 161v1M245 161v1M246 160v1M247 160v1M248 160v1M249 160v1M250 160v1M251 161v1M252 162v2M253 164v1M254 165v2M255 167v1M256 168v2M257 170v3M258 173v2M259 175v2M260 177v2M261 179v3M262 182v2M263 184v2M264 186v2M265 188v2M266 190v2M267 192v2M268 194v1M269 195v1M270 196v2M271 198v1M272 199v1M273 200v1M274 201v1M275 202v1M276 202v1M277 203v1M278 204v1M279 205v1M280 206v1M281 206v1M282 207v1M283 208v1M284 209v1M285 210v1M286 211v1M287 211v1M288 212v1M289 212v1M290 213v1M291 214v1M292 214v1M293 215v1M294 215v2M295 217v1M296 218v2M297 220v2M298 222v2M299 224v3M300 227v3M301 230v4M302 234v3M303 237v4M304 241v4M305 245v3M306 248v3M307 251v3M308 254v3M309 257v4M310 261v5M311 266v4M312 270v3M313 273v3M314 276v2M315 278v2M316 280v1M317 281v1M318 282v1M319 282v1M320 283v1M321 284v1M322 285v1M323 286v1M324 287v1M325 288v1M326 288v1M327 289v1M328 290v1M329 291v1M330 292v1M331 293v1M332 293v1M333 294v1M334 294v1M335 294v1M336 294v1M337 294v1M338 294v1M339 294v1M340 294v1M341 293v1M342 292v1M343 291v1M344 290v1M345 289v1M346 288v1M347 287v1M348 286v1M349 285v1M350 284v1M351 284v1M352 284v1M353 284v1M354 283v1M355 283v1M356 283v1M357 284v1M358 284v1M359 284v1M360 284v1M361 284v1M362 284v1M363 285v1M364 286v1M365 287v1M366 288v2M367 290v1M368 291v1M369 292v1M370 293v1M371 294v1M372 295v1M373 296v1M374 296v1M375 297v1M376 297v1M377 298v1M378 299v1M379 300v1M380 301v1M381 302v1M382 303v1M383 304v1M384 304v1M385 305v1M386 306v1M387 306v1M388 307v1M389 307v1M390 308v1M391 307v1M392 307v1M393 307v1M394 307v1M395 306v1M396 306v1M397 306v1M398 306v1M399 306v1M400 306v1M401 307v1M402 307v1M403 307v1M404 308v2M405 310v1M406 311v2M407 313v2M408 315v1M409 316v1M410 317v1M411 318v1M412 319v1M413 320v1M414 320v1M415 321v1M416 322v1M417 322v1M418 323v1M419 324v1M420 325v1M421 326v1M422 327v1M423 327v1M424 327v1M425 328v1M426 328v1M427 328v1M428 328v1M429 328v1M430 327v1M431 325v2M432 324v1M433 324v1M434 323v1M435 323v1M436 323v1M437 323v1M438 323v1M439 324v1M440 325v2M441 327v1M442 328v1M443 329v1M444 330v2M445 332v1M446 333v1M447 333v1M448 334v1M449 335v1M450 336v2M451 338v1M452 339v1M453 340v2M454 342v1M455 343v1M456 344v2M457 346v1M458 346v1M459 347v1M460 348v1M461 348v1M462 348v1M463 348v1M464 348v1M465 347v1M466 347v1M467 347v1M468 347v1M469 348v1M470 348v1M471 348v1M472 349v1M473 349v1M474 350v1M475 350v1M476 350v1M477 350v1M478 350v1M479 350v1M480 349v1M481 349v1M482 349v1M483 349v1M484 349v1M485 350v1M486 350v1M487 349v1M488 348v1M489 347v1M490 345v2M491 343v2M492 342v1M493 341v1M494 339v2M495 338v1M496 337v1M497 336v1M498 336v1M499 336v1M500 336v1M501 337v1M502 337v1M503 337v1M504 337v1M505 337v1M506 337v1M507 337v1M508 337v1M509 337v1M510 338v1M511 338v1M512 339v1M513 339v1M514 339v1M515 340v1M516 340v1M517 341v1M518 341v1M519 342v1M520 342v1M521 342v1M522 342v1M523 342v1M524 343v1M525 344v2M526 346v2M527 348v3M528 351v3M529 354v3M530 357v2M531 359v3M532 362v2M533 364v2M534 366v2M535 368v2M536 370v2M537 372v2M538 374v3M539 377v2M540 379v3M541 382v3M542 385v2M543 387v3M544 390v2M545 392v1M546 393v1M547 394v2M548 396v1M549 397v1M550 398v1M551 399v1M552 400v2M553 402v2M554 404v2M555 406v2M556 408v1M557 409v1M558 410v2M559 412v2M560 414v1M561 415v1M562 416v2M563 418v1M564 418v1M565 419v1M566 419v1M567 419v1M568 420v1M569 421v1M570 421v1M571 422v1M572 422v1M573 422v1M574 422v1M575 422v1M576 422v1M577 423v1M578 423v1M579 423v1M580 422v1M581 422v1M582 421v1M583 421v1M584 421v1M585 422v1M586 423v3M587 426v2M588 428v3M589 431v3M590 434v2M591 436v2M592 438v2M593 440v2M594 442v3M595 445v2M596 447v2M597 449v2M598 451v2M599 453v2M600 455v3M601 458v3M602 461v2M603 463v4M604 467v3M605 470v4M606 474v3M607 477v3M608 480v4M609 484v3M610 487v2M611 489v3M612 492v2M613 494v3M614 497v2M615 499v2M616 501v2M617 503v1M618 504v1M619 505v1M620 506v2M621 508v1M622 509v1M623 509v1M624 510v1M625 511v1M626 511v1M627 512v1M628 512v1M629 512v1M630 512v1M631 512v1M632 513v1M633 513v2M634 515v1M635 516v2M636 518v2M637 520v2M638 522v2M639 524v2M640 526v2M641 528v3M642 531v2M643 533v3M644 536v2M645 538v3M646 541v3M647 544v3M648 547v3M649 550v4M650 554v3M651 557v3M652 560v4M653 564v4M654 568v4M655 572v4M656 576v4M657 580v3M658 583v4M659 587v3M660 590v3M661 593v3M662 596v2M663 598v1M664 599v1M665 600v2M666 602v1M667 603v2M668 605v2M669 607v3M670 610v3M671 613v2M672 615v3M673 618v2M674 620v1M675 621v1M676 622v1M677 623v1M678 623v1M679 624v1M680 624v1M681 625v1M682 626v2M683 628v2M684 630v1M685 631v1M686 632v2M687 634v2M688 636v1M689 637v1M690 638v2M691 640v1M692 641v2M693 643v1M694 644v1M695 645v1M696 646v1M697 647v1M698 648v1M699 648v1M700 649v1M701 650v1M702 651v1M703 652v1M704 653v1M705 654v1M706 654v1M707 655v1M708 655v1M709 655v1M710 654v1M711 653v1M712 652v1M713 650v2M714 649v1M715 648v1M716 647v1M717 646v1M718 646v1M719 645v1M720 644v1M721 644v1M722 643v1M723 642v1M724 641v1M725 640v1M726 640v1M727 640v1M728 641v1M729 642v1M730 643v1M731 644v2M732 646v1M733 647v1M734 648v2M735 650v1M736 651v1M737 652v1M738 653v1M739 653v1M740 654v1M741 654v1M742 653v1M743 653v1M744 654v1M745 654v1M746 654v1M747 654v1M748 654v1M749 653v1M750 652v1M751 650v2M752 649v1M753 647v2M754 645v2M755 643v2M756 641v2M757 638v3M758 637v1M759 635v2M760 635v1M761 635v1M762 635v1M763 635v1M764 635v1M765 635v1M766 634v1M767 632v2M768 631v1M769 629v2M770 628v1M771 628v1M772 628v1M773 629v1M774 629v1M775 630v1M776 630v1M777 631v1M778 631v1M779 632v1M780 633v1M781 634v2M782 636v1M783 637v2M784 639v3M785 642v2M786 644v2M787 646v2M788 648v3M789 651v2M790 653v3M791 656v2M792 658v3M793 661v2M794 663v1M795 664v2M796 666v1M797 667v1M798 668v2M799 670v1M800 671v1M801 672v1M802 673v1M803 673v1M804 673v1M805 672v1M806 671v1M807 670v1M808 669v1M809 668v1M810 667v1M811 667v1M812 667v1M813 667v1M814 666v1M815 666v1M816 666v1M817 665v1M818 665v1M819 665v1M820 664v1M821 664v1M822 662v2M823 661v1M824 661v1M825 660v1M826 659v1M827 659v1M828 658v1M829 656v2M830 655v1M831 653v2M832 652v1M833 652v1M834 652v1M835 652v1M836 653v1M837 653v1M838 653v1M839 653v1M840 653v1M841 653v1M842 653v1M843 653v1M844 654v1M845 654v1M846 655v1M847 656v1M848 657v1M849 658v1M850 658v1M851 658v1M852 658v1M853 658v1M854 658v1M855 657v1M856 656v1M857 656v1M858 655v1M859 655v1M860 654v1M861 654v1M862 654v1M863 654v1M864 653v1M865 653v1M866 653v1M867 653v1M868 654v1M869 654v1M870 654v1M871 654v1M872 654v1M873 654v1M874 654v1M875 655v1M876 655v1M877 656v1M878 657v1M879 658v1M880 659v1M881 660v1M882 661v1M883 662v2M884 664v1M885 665v1M886 666v2M887 668v2M888 670v1M889 671v2M890 673v3M891 676v2M892 678v3M893 681v3M894 684v3M895 687v2M896 689v2M897 691v1M898 692v2M899 694v1M900 695v2M901 697v1M902 697v1M903 698v1M904 698v1M905 698v1M906 698v1M907 698v1M908 698v1M909 699v1M910 699v1M911 700v1M912 701v1M913 701v1M914 701v1M915 701v1M916 700v1M917 699v1M918 698v1M919 697v1M920 696v1M921 694v2M922 692v2M923 691v1M924 689v2M925 687v2M926 685v2M927 683v2M928 682v1M929 681v1M930 680v1M931 679v1M932 678v1M933 676v2M934 675v1M935 674v1M936 673v1M937 672v1M938 671v1M939 671v1M940 670v1M941 669v1M942 668v1M943 667v1M944 666v1M945 664v2M946 663v1M947 662v1M948 661v1M949 660v1M950 659v1M951 658v1M952 657v1M953 656v1M954 655v1M955 654v1M956 653v1M957 652v1M958 652v1M959 651v1M960 651v1M961 650v1M962 649v1M963 649v1M964 648v1M965 647v1M966 646v1M967 645v1M968 644v1M969 643v1M970 643v1M971 642v1M972 642v1M973 641v1M974 640v1M975 640v1M976 639v1M977 639v1M978 639v1M979 639v1M980 638v1M981 638v1M982 638v1M983 637v1M984 637v1M985 636v1M986 636v1M987 635v1M988 634v1M989 633v1M990 632v1M991 632v1M992 631v1M993 631v1M994 630v1M995 630v1M996 630v1M997 630v1M998 629v1M999 629v1M1000 629v1M1001 628v1M1002 628v1M1003 628v1M1004 628v1M1005 629v1M1006 629v1M1007 629v1M1008 629v1M1009 629v1M1010 629v1M1011 629v1M1012 629v1M1013 629v1M1014 629v1M1015 629v1M1016 629v1M1017 629v1M1018 629v1M1019 629v1M1020 629v1M1021 629v1M1022 630v1M1023 630v1M1024 631v1M1025 631v1M1026 632v1M1027 632v1M1028 633v1M1029 633v1M1030 634v1M1031 634v1M1032 634v1M1033 635v1M1034 635v1M1035 634v1M1036 634v1M1037 634v1M1038 634v1M1039 634v1M1040 634v1M1041 633v1M1042 633v1M1043 633v1M1044 632v1M1045 632v1M1046 632v1M1047 631v1M1048 631v1M1049 631v1M1050 631v1M1051 631v1M1052 631v1M1053 630v1M1054 630v1M1055 630v1M1056 629v1M1057 629v1M1058 629v1M1059 628v1M1060 628v1M1061 628v1M1062 628v1M1063 628v1M1064 627v1M1065 626v1M1066 625v1M1067 624v1M1068 622v2M1069 621v1M1070 619v2M1071 618v1M1072 616v2M1073 615v1M1074 613v2M1075 612v1M1076 611v1M1077 610v1M1078 609v1M1079 608v1M1080 607v1M1081 606v1M1082 605v1M1083 604v1M1084 603v1M1085 602v1M1086 601v1M1087 600v1M1088 600v1M1089 599v1M1090 598v1M1091 597v1M1092 596v1M1093 595v1M1094 593v2M1095 592v1M1096 591v1M1097 590v1M1098 589v1M1099 589v1M1100 588v1M1101 588v1M1102 588v1M1103 587v1M1104 587v1M1105 587v1M1106 587v1M1107 586v1M1108 586v1M1109 586v1M1110 586v1M1111 586v1M1112 586v1M1113 586v1M1114 586v1M1115 585v1M1116 584v1M1117 584v1M1118 583v1M1119 583v1M1120 582v1M1121 582v1M1122 582v1M1123 582v1M1124 582v1M1125 582v1M1126 583v1M1127 583v1M1128 584v1M1129 585v1M1130 586v1M1131 587v1M1132 588v1M1133 589v2M1134 591v1M1135 592v1M1136 593v1M1137 594v1M1138 595v1M1139 596v1M1140 597v1M1141 598v2M1142 600v1M1143 601v2M1144 603v2M1145 605v2M1146 607v2M1147 609v2M1148 611v2M1149 613v2M1150 615v2M1151 617v1M1152 618v2M1153 620v2M1154 622v2M1155 624v2M1156 626v2M1157 628v2M1158 630v3M1159 633v2M1160 635v2M1161 637v2M1162 639v2M1163 641v2M1164 643v2M1165 645v2M1166 647v1M1167 648v3M1168 651v2M1169 653v2M1170 655v3M1171 658v2M1172 660v2M1173 662v3M1174 665v2M1175 667v2M1176 669v2M1177 671v1M1178 672v2M1179 674v2M1180 676v1M1181 677v2M1182 679v1M1183 680v2M1184 682v2M1185 684v2M1186 686v2M1187 688v2M1188 690v2M1189 692v2M1190 694v2M1191 696v2M1192 698v3M1193 701v2M1194 703v2M1195 705v2M1196 707v3M1197 710v2M1198 712v3M1199 715v2M1200 717v3M1201 720v2M1202 722v2M1203 724v1M1204 725v2M1205 727v1M1206 728v2M1207 730v1M1208 731v1M1209 732v1M1210 733v1M1211 734v1M1212 735v1M1213 736v1M1214 737v1M1215 738v1M1216 738v1M1217 739v1M1218 740v1M1219 740v1M1220 741v1M1221 742v1M1222 743v1M1223 743v1M1224 744v1M1225 744v1M1226 745v1M1227 745v1M1228 745v1M1229 745v1M1230 746v1M1231 746v1M1232 747v1M1233 748v1M1234 749v1M1235 750v2M1236 752v1M1237 752v1M1238 753v1M1239 754v1M1240 755v1M1241 756v1M1242 757v1M1243 758v1M1244 759v1M1245 760v1M1246 761v1M1247 762v2M1248 764v2M1249 766v1M1250 767v1M1251 768v1M1252 769v2M1253 771v1M1254 772v1M1255 773v1M1256 774v1M1257 775v1M1258 776v1M1259 777v1M1260 778v1M1261 779v1M1262 780v1M1263 781v2M1264 783v1M1265 784v1M1266 785v2M1267 787v2M1268 789v2M1269 791v1M1270 792v2M1271 794v2M1272 796v1M1273 797v1M1274 798v1M1275 799v1M1276 800v1M1277 800v1M1278 801v1M1279 801v1M1280 802v1M1281 803v1M1282 804v1M1283 805v1M1284 806v1M1285 807v1M1286 808v1M1287 808v1M1288 809v1M1289 809v1M1290 810v1M1291 811v1M1292 812v1M1293 812v1M1294 813v1M1295 814v1M1296 814v1M1297 815v1M1298 815v1M1299 815v1M1300 815v1M1301 816v1M1302 816v1M1303 817v1M1304 817v1M1305 817v1M1306 818v1M1307 818v1M1308 819v1M1309 819v1M1310 819v1M1311 820v1M1312 820v1M1313 820v1M1314 820v1M1315 821v1M1316 821v1M1317 821v1M1318 821v1M1319 821v1M1320 821v1M1321 822v1M1322 822v1M1323 822v1M1324 823v1M1325 823v1M1326 823v1M1327 823v1M1328 823v1M1329 823v1M1330 823v1M1331 823v1M1332 823v1M1333 823v1M1334 823v1M1335 823v1M1336 822v1M1337 822v1M1338 821v1M1339 820v1M1340 818v2M1341 817v1M1342 816v1M1343 814v2M1344 813v1M1345 812v1M1346 811v1M1347 810v1M1348 809v1M1349 808v1M1350 807v1M1351 805v2M1352 804v1M1353 804v1M1354 803v1M1355 802v1M1356 801v1M1357 800v1M1358 799v1M1359 798v1M1360 798v1M1361 798v1M1362 798v1M1363 799v1M1364 799v1M1365 800v1M1366 801v1M1367 801v1M1368 801v1M1369 802v1M1370 802v1M1371 803v1M1372 803v1M1373 804v1M1374 804v1M1375 804v1M1376 804v1M1377 805v1M1378 806v1M1379 806v1M1380 807v1M1381 808v1M1382 808v1M1383 809v1M1384 809v1M1385 810v1M1386 811v1M1387 812v1M1388 812v1M1389 813v1M1390 813v1M1391 813v1M1392 814v1M1393 814v1M1394 814v1M1395 814v1M1396 814v1M1397 815v1M1398 815v1M1399 815v1M1400 815v1M1401 815v1M1402 815v1M1403 815v1M1404 815v1M1405 815v1M1406 815v1M1407 815v1M1408 815v1M1409 815v1M1410 815v1M1411 814v1M1412 814v1M1413 813v1M1414 813v1M1415 813v1M1416 813v1M1417 813v1M1418 812v1M1419 811v1M1420 811v1M1421 810v1M1422 810v1M1423 809v1M1424 808v1M1425 808v1M1426 807v1M1427 806v1M1428 805v1M1429 804v1M1430 803v1M1431 802v1M1432 801v1M1433 800v1M1434 799v1M1435 797v2M1436 796v1M1437 796v1M1438 795v1M1439 794v1M1440 794v1M1441 794v1M1442 793v1M1443 793v1M1444 792v1M1445 791v1M1446 789v2M1447 788v1M1448 786v2M1449 784v2M1450 783v1M1451 781v2M1452 780v1M1453 779v1M1454 777v2M1455 776v1M1456 775v1M1457 773v2M1458 772v1M1459 771v1M1460 770v1M1461 770v1M1462 769v1M1463 768v1M1464 768v1M1465 767v1M1466 767v1M1467 766v1M1468 766v1M1469 766v1M1470 766v1M1471 765v1M1472 765v1M1473 765v1M1474 765v1M1475 765v1M1476 765v1M1477 764v1M1478 764v1M1479 764v1M1480 764v1M1481 764v1M1482 763v1M1483 763v1M1484 762v1M1485 762v1M1486 761v1M1487 761v1M1488 760v1M1489 760v1M1490 759v1M1491 759v1M1492 758v1M1493 758v1M1494 758v1M1495 757v1M1496 757v1M1497 757v1M1498 756v1M1499 756v1M1500 756v1M1501 757v1M1502 758v2M1503 760v2M1504 762v2M1505 764v1M1506 765v2M1507 767v1M1508 768v2M1509 770v1M1510 770v1M1511 768v2M1512 767v1M1513 765v2M1514 763v2M1515 762v1M1516 760v2M1517 759v1M1518 758v1M1519 757v1M1520 756v1M1521 755v1M1522 755v1M1523 754v1M1524 753v1M1525 752v1M1526 751v1M1527 750v1M1528 749v1M1529 748v1M1530 747v1M1531 746v1M1532 745v1M1533 744v1M1534 743v1M1535 742v1M1536 742v1M1537 741v1M1538 740v1M1539 739v1M1540 739v1M1541 738v1M1542 738v1M1543 738v1M1544 737v1M1545 737v1M1546 737v1M1547 736v1M1548 736v1M1549 736v1M1550 735v1M1551 735v1M1552 735v1M1553 734v1M1554 734v1M1555 734v1M1556 734v1M1557 733v1M1558 733v1M1559 733v1M1560 733v1M1561 732v1M1562 732v1M1563 732v1M1564 731v1M1565 731v1M1566 730v1M1567 730v1M1568 730v1M1569 729v1M1570 729v1M1571 728v1M1572 728v1M1573 728v1M1574 727v1M1575 727v1M1576 727v1M1577 726v1M1578 726v1M1579 726v1M1580 726v1M1581 725v1M1582 725v1M1583 725v1M1584 724v1M1585 724v1M1586 724v1M1587 724v1M1588 723v1M1589 723v1M1590 723v1M1591 722v1M1592 722v1M1593 722v1M1594 721v1M1595 721v1M1596 721v1M1597 720v1M1598 720v1M1599 719v1M1600 719v1M1601 719v1M1602 719v1M1603 719v1M1604 719v1M1605 719v1M1606 719v1M1607 719v1M1608 720v1M1609 720v1M1610 720v1M1611 720v1M1612 720v1M1613 720v1M1614 720v1M1615 720v1M1616 720v1M1617 720v1M1618 721v1M1619 721v1M1620 721v1M1621 721v1M1622 720v1M1623 720v1M1624 720v1M1625 719v1M1626 719v1M1627 719v1"/><path d="M3 312v1M4 313v2M5 315v3M6 318v2M7 320v3M8 323v1M9 324v2M10 326v2M11 328v1M12 329v1M13 330v1M14 331v1M15 332v1M16 333v1M17 333v1M18 334v1M19 335v1M20 335v1M21 336v1M22 336v1M23 337v1M24 337v1M25 338v1M26 339v1M27 339v1M28 340v1M29 340v1M30 340v1M31 340v1M32 340v1M33 340v1M34 339v1M35 339v1M36 339v1M37 339v1M38 338v1M39 338v1M40 337v1M41 336v1M42 335v1M43 334v1M44 333v1M45 332v1M46 331v1M47 330v1M48 330v1M49 329v1M50 328v1M51 328v1M52 327v1M53 326v1M54 325v1M55 324v1M56 323v1M57 322v1M58 320v2M59 319v1M60 318v1M61 317v1M62 316v1M63 314v2M64 312v2M65 311v1M66 309v2M67 308v1M68 306v2M69 305v1M70 303v2M71 301v2M72 299v2M73 297v2M74 294v3M75 292v2M76 290v2M77 288v2M78 286v2M79 284v2M80 282v2M81 280v2M82 279v1M83 278v1M84 277v1M85 276v1M86 275v1M87 274v1M88 273v1M89 273v1M90 273v1M91 273v1M92 273v1M93 273v1M94 273v1M95 273v1M96 273v1M97 273v1M98 273v1M99 274v1M100 274v1M101 274v1M102 274v1M103 274v1M104 274v1M105 274v1M106 275v1M107 276v1M108 276v1M109 276v1M110 276v1M111 276v1M112 276v1M113 276v1M114 276v1M115 276v1M116 276v1M117 277v1M118 277v1M119 278v1M120 278v1M121 278v1M122 277v1M123 276v1M124 275v1M125 273v2M126 272v1M127 271v1M128 270v1M129 269v1M130 268v1M131 267v1M132 266v1M133 266v1M134 265v1M135 265v1M136 264v1M137 263v1M138 263v1M139 262v1M140 262v1M141 261v1M142 260v1M143 260v1M144 259v1M145 259v1M146 258v1M147 258v1M148 258v1M149 258v1M150 257v1M151 257v1M152 257v1M153 257v1M154 256v1M155 256v1M156 255v1M157 255v1M158 255v1M159 255v1M160 255v1M161 255v1M162 255v1M163 255v1M164 255v1M165 254v1M166 254v1M167 254v1M168 254v1M169 254v1M170 254v1M171 254v1M172 254v1M173 254v1M174 255v1M175 256v1M176 257v1M177 257v1M178 258v1M179 258v1M180 257v1M181 257v1M182 256v1M183 256v1M184 256v1M185 256v1M186 255v1M187 255v1M188 255v1M189 254v1M190 254v1M191 253v1M192 252v1M193 251v1M194 250v1M195 249v1M196 248v1M197 248v1M198 247v1M199 247v1M200 247v1M201 246v1M202 246v1M203 246v1M204 246v1M205 246v1M206 246v1M207 245v1M208 245v1M209 244v1M210 244v1M211 243v1M212 243v1M213 242v1M214 241v1M215 241v1M216 240v1M217 238v2M218 236v2M219 234v2M220 231v3M221 229v2M222 227v2M223 224v3M224 222v2M225 219v3M226 217v2M227 214v3M228 211v3M229 208v3M230 205v3M231 202v3M232 200v2M233 197v3M234 194v3M235 191v3M236 189v2M237 187v2M238 185v2M239 183v2M240 181v2M241 179v2M242 178v1M243 177v1M244 176v1M245 176v1M246 175v1M247 174v1M248 174v1M249 174v1M250 174v1M251 174v1M252 175v1M253 175v1M254 176v1M255 177v1M256 178v1M257 179v2M258 181v1M259 182v2M260 184v1M261 185v2M262 187v2M263 189v1M264 190v1M265 191v2M266 193v1M267 194v2M268 196v1M269 197v1M270 197v1M271 198v1M272 199v1M273 200v1M274 201v1M275 201v1M276 202v1M277 203v1M278 203v1M279 204v1M280 204v1M281 205v1M282 205v1M283 206v1M284 207v1M285 208v1M286 208v1M287 209v1M288 209v1M289 210v1M290 210v1M291 211v1M292 211v1M293 212v1M294 212v1M295 213v1M296 214v2M297 216v2M298 218v2M299 220v2M300 222v2M301 224v3M302 227v3M303 230v3M304 233v3M305 236v3M306 239v2M307 241v3M308 244v3M309 247v3M310 250v3M311 253v4M312 257v3M313 260v2M314 262v2M315 264v2M316 266v1M317 267v1M318 268v1M319 269v1M320 269v1M321 270v1M322 271v1M323 272v2M324 274v1M325 275v1M326 276v1M327 276v1M328 277v2M329 279v1M330 280v1M331 280v1M332 281v1M333 282v1M334 282v1M335 283v1M336 283v1M337 283v1M338 284v1M339 284v1M340 284v1M341 284v1M342 283v1M343 283v1M344 282v1M345 281v1M346 281v1M347 280v1M348 280v1M349 279v1M350 279v1M351 279v1M352 279v1M353 279v1M354 279v1M355 279v1M356 279v1M357 279v1M358 279v1M359 279v1M360 280v1M361 280v1M362 280v1M363 281v1M364 282v1M365 283v1M366 284v1M367 285v1M368 286v1M369 287v1M370 288v1M371 289v1M372 289v1M373 290v1M374 290v1M375 291v1M376 291v1M377 292v1M378 293v1M379 294v1M380 295v1M381 296v1M382 297v1M383 297v1M384 298v1M385 299v1M386 299v1M387 300v1M388 301v1M389 301v1M390 301v1M391 302v1M392 302v1M393 301v1M394 301v1M395 301v1M396 301v1M397 301v1M398 301v1M399 302v1M400 302v1M401 302v1M402 303v1M403 303v1M404 304v1M405 305v1M406 306v2M407 308v1M408 309v1M409 310v1M410 311v1M411 312v1M412 313v1M413 314v1M414 314v1M415 315v1M416 316v1M417 316v1M418 317v1M419 318v1M420 319v1M421 320v1M422 320v1M423 321v1M424 321v1M425 321v1M426 322v1M427 322v1M428 322v1M429 322v1M430 321v1M431 321v1M432 320v1M433 320v1M434 319v1M435 319v1M436 319v1M437 319v1M438 320v1M439 320v1M440 321v2M441 323v1M442 324v1M443 325v1M444 326v1M445 327v1M446 328v1M447 328v1M448 329v1M449 330v1M450 331v1M451 332v1M452 333v1M453 334v1M454 335v2M455 337v1M456 338v1M457 339v1M458 340v1M459 340v1M460 341v1M461 342v1M462 342v1M463 342v1M464 342v1M465 342v1M466 342v1M467 342v1M468 342v1M469 342v1M470 343v1M471 343v1M472 343v1M473 344v1M474 344v1M475 345v1M476 345v1M477 345v1M478 345v1M479 345v1M480 345v1M481 345v1M482 345v1M483 345v1M484 345v1M485 346v1M486 346v1M487 346v1M488 345v1M489 344v1M490 342v2M491 341v1M492 340v1M493 340v1M494 339v1M495 338v1M496 337v1M497 336v1M498 336v1M499 336v1M500 336v1M501 337v1M502 337v1M503 337v1M504 337v1M505 337v1M506 337v1M507 337v1M508 337v1M509 337v1M510 337v1M511 338v1M512 338v1M513 339v1M514 339v1M515 339v1M516 340v1M517 340v1M518 340v1M519 341v1M520 341v1M521 341v1M522 341v1M523 341v1M524 342v1M525 343v1M526 344v2M527 346v2M528 348v3M529 351v2M530 353v2M531 355v2M532 357v1M533 358v2M534 360v2M535 362v2M536 364v1M537 365v2M538 367v2M539 369v2M540 371v2M541 373v3M542 376v2M543 378v2M544 380v1M545 381v2M546 383v1M547 384v1M548 385v1M549 386v2M550 388v1M551 389v1M552 390v1M553 391v2M554 393v2M555 395v2M556 397v1M557 398v1M558 399v2M559 401v1M560 402v2M561 404v1M562 405v1M563 406v1M564 407v1M565 407v1M566 408v1M567 408v1M568 409v1M569 410v1M570 411v1M571 412v1M572 412v1M573 412v1M574 412v1M575 413v1M576 413v1M577 414v1M578 414v1M579 414v1M580 414v1M581 414v1M582 413v1M583 413v1M584 414v1M585 414v2M586 416v2M587 418v2M588 420v2M589 422v2M590 424v2M591 426v2M592 428v2M593 430v1M594 431v3M595 434v2M596 436v2M597 438v2M598 440v1M599 441v2M600 443v2M601 445v3M602 448v2M603 450v3M604 453v3M605 456v3M606 459v3M607 462v3M608 465v2M609 467v3M610 470v2M611 472v3M612 475v2M613 477v2M614 479v2M615 481v2M616 483v2M617 485v2M618 487v1M619 488v1M620 489v1M621 490v2M622 492v1M623 493v1M624 494v1M625 495v1M626 495v1M627 496v1M628 497v1M629 497v1M630 498v1M631 498v1M632 499v1M633 500v1M634 501v2M635 503v1M636 504v2M637 506v2M638 508v2M639 510v2M640 512v2M641 514v2M642 516v2M643 518v3M644 521v2M645 523v2M646 525v3M647 528v3M648 531v2M649 533v3M650 536v3M651 539v3M652 542v3M653 545v4M654 549v3M655 552v3M656 555v4M657 559v3M658 562v3M659 565v3M660 568v3M661 571v3M662 574v2M663 576v1M664 577v2M665 579v1M666 580v2M667 582v2M668 584v2M669 586v3M670 589v2M671 591v3M672 594v2M673 596v2M674 598v2M675 600v1M676 601v1M677 602v1M678 603v1M679 604v1M680 605v1M681 606v1M682 607v2M683 609v2M684 611v1M685 612v2M686 614v2M687 616v1M688 617v2M689 619v1M690 620v2M691 622v1M692 623v2M693 625v1M694 626v2M695 628v1M696 629v1M697 630v1M698 631v1M699 632v1M700 633v1M701 634v1M702 635v1M703 636v1M704 637v1M705 638v1M706 639v1M707 640v1M708 640v1M709 641v1M710 640v1M711 640v1M712 639v1M713 639v1M714 638v1M715 638v1M716 637v1M717 637v1M718 637v1M719 637v1M720 636v1M721 636v1M722 635v1M723 635v1M724 634v1M725 634v1M726 634v1M727 634v1M728 635v1M729 636v1M730 637v1M731 638v1M732 639v1M733 640v1M734 641v2M735 643v1M736 644v1M737 645v1M738 645v1M739 646v1M740 646v1M741 647v1M742 647v1M743 647v1M744 647v1M745 647v1M746 648v1M747 648v1M748 648v1M749 647v1M750 647v1M751 646v1M752 645v1M753 643v2M754 642v1M755 641v1M756 639v2M757 637v2M758 636v1M759 635v1M760 634v1M761 634v1M762 634v1M763 635v1M764 635v1M765 635v1M766 634v1M767 633v1M768 631v2M769 630v1M770 629v1M771 629v1M772 629v1M773 630v1M774 630v1M775 630v1M776 631v1M777 631v1M778 632v1M779 632v1M780 633v1M781 634v1M782 635v1M783 636v2M784 638v2M785 640v1M786 641v2M787 643v2M788 645v2M789 647v2M790 649v2M791 651v2M792 653v2M793 655v1M794 656v2M795 658v1M796 659v1M797 660v1M798 661v1M799 662v2M800 664v1M801 665v1M802 666v1M803 666v1M804 666v1M805 665v1M806 665v1M807 664v1M808 664v1M809 663v1M810 663v1M811 662v1M812 662v1M813 662v1M814 662v1M815 662v1M816 662v1M817 662v1M818 661v1M819 661v1M820 661v1M821 661v1M822 660v1M823 659v1M824 659v1M825 658v1M826 658v1M827 657v1M828 657v1M829 656v1M830 654v2M831 654v1M832 653v1M833 653v1M834 653v1M835 653v1M836 653v1M837 653v1M838 653v1M839 653v1M840 653v1M841 653v1M842 653v1M843 654v1M844 654v1M845 654v1M846 655v1M847 656v1M848 657v1M849 657v1M850 657v1M851 658v1M852 657v1M853 657v1M854 657v1M855 657v1M856 656v1M857 656v1M858 655v1M859 655v1M860 654v1M861 654v1M862 654v1M863 654v1M864 654v1M865 654v1M866 654v1M867 654v1M868 654v1M869 654v1M870 654v1M871 654v1M872 654v1M873 654v1M874 655v1M875 655v1M876 655v1M877 656v1M878 656v1M879 657v1M880 658v1M881 659v1M882 660v1M883 661v1M884 662v1M885 663v1M886 664v1M887 665v2M888 667v1M889 668v2M890 670v1M891 671v2M892 673v3M893 676v2M894 678v2M895 680v2M896 682v1M897 683v2M898 685v1M899 686v1M900 687v2M901 689v1M902 689v1M903 690v1M904 690v1M905 690v1M906 690v1M907 690v1M908 691v1M909 692v1M910 692v1M911 693v1M912 694v1M913 694v1M914 694v1M915 694v1M916 694v1M917 693v1M918 693v1M919 692v1M920 691v1M921 690v1M922 689v1M923 688v1M924 686v2M925 685v1M926 684v1M927 682v2M928 681v1M929 680v1M930 680v1M931 679v1M932 678v1M933 677v1M934 676v1M935 675v1M936 674v1M937 674v1M938 673v1M939 672v1M940 672v1M941 671v1M942 670v1M943 669v1M944 668v1M945 668v1M946 667v1M947 666v1M948 665v1M949 664v1M950 663v1M951 662v1M952 662v1M953 661v1M954 660v1M955 659v1M956 658v1M957 657v1M958 657v1M959 656v1M960 656v1M961 655v1M962 655v1M963 654v1M964 653v1M965 652v1M966 651v1M967 650v1M968 650v1M969 649v1M970 649v1M971 648v1M972 647v1M973 647v1M974 646v1M975 646v1M976 645v1M977 645v1M978 644v1M979 644v1M980 644v1M981 643v1M982 643v1M983 642v1M984 642v1M985 641v1M986 641v1M987 640v1M988 639v1M989 639v1M990 638v1M991 637v1M992 637v1M993 636v1M994 636v1M995 635v1M996 635v1M997 635v1M998 634v1M999 634v1M1000 634v1M1001 633v1M1002 633v1M1003 633v1M1004 633v1M1005 633v1M1006 633v1M1007 633v1M1008 633v1M1009 633v1M1010 633v1M1011 633v1M1012 633v1M1013 632v1M1014 632v1M1015 632v1M1016 632v1M1017 632v1M1018 632v1M1019 632v1M1020 632v1M1021 632v1M1022 632v1M1023 633v1M1024 633v1M1025 633v1M1026 634v1M1027 634v1M1028 634v1M1029 635v1M1030 635v1M1031 635v1M1032 635v1M1033 636v1M1034 636v1M1035 635v1M1036 635v1M1037 635v1M1038 635v1M1039 635v1M1040 635v1M1041 634v1M1042 634v1M1043 634v1M1044 633v1M1045 633v1M1046 633v1M1047 633v1M1048 633v1M1049 633v1M1050 633v1M1051 632v1M1052 632v1M1053 632v1M1054 632v1M1055 631v1M1056 631v1M1057 631v1M1058 630v1M1059 630v1M1060 630v1M1061 630v1M1062 630v1M1063 629v1M1064 629v1M1065 628v1M1066 627v1M1067 626v1M1068 625v1M1069 624v1M1070 623v1M1071 621v2M1072 620v1M1073 619v1M1074 618v1M1075 617v1M1076 615v2M1077 615v1M1078 614v1M1079 613v1M1080 612v1M1081 611v1M1082 610v1M1083 609v1M1084 608v1M1085 608v1M1086 607v1M1087 606v1M1088 606v1M1089 605v1M1090 604v1M1091 603v1M1092 602v1M1093 601v1M1094 600v1M1095 599v1M1096 598v1M1097 597v1M1098 596v1M1099 596v1M1100 595v1M1101 595v1M1102 594v1M1103 594v1M1104 594v1M1105 593v1M1106 593v1M1107 592v1M1108 592v1M1109 592v1M1110 592v1M1111 592v1M1112 592v1M1113 591v1M1114 591v1M1115 590v1M1116 590v1M1117 589v1M1118 589v1M1119 588v1M1120 588v1M1121 587v1M1122 587v1M1123 587v1M1124 587v1M1125 587v1M1126 587v1M1127 588v1M1128 588v1M1129 589v1M1130 590v1M1131 590v1M1132 591v1M1133 592v1M1134 593v1M1135 593v1M1136 594v1M1137 595v1M1138 596v1M1139 596v1M1140 597v1M1141 598v1M1142 599v2M1143 601v1M1144 602v2M1145 604v1M1146 605v2M1147 607v1M1148 608v2M1149 610v1M1150 611v2M1151 613v1M1152 614v2M1153 616v1M1154 617v2M1155 619v1M1156 620v2M1157 622v2M1158 624v2M1159 626v2M1160 628v2M1161 630v1M1162 631v2M1163 633v1M1164 634v2M1165 636v1M1166 637v2M1167 639v2M1168 641v2M1169 643v2M1170 645v2M1171 647v2M1172 649v2M1173 651v2M1174 653v2M1175 655v2M1176 657v1M1177 658v2M1178 660v2M1179 662v1M1180 663v2M1181 665v1M1182 666v2M1183 668v1M1184 669v2M1185 671v2M1186 673v2M1187 675v2M1188 677v2M1189 679v2M1190 681v1M1191 682v2M1192 684v2M1193 686v2M1194 688v2M1195 690v2M1196 692v3M1197 695v2M1198 697v2M1199 699v2M1200 701v3M1201 704v2M1202 706v1M1203 707v2M1204 709v2M1205 711v1M1206 712v2M1207 714v1M1208 715v1M1209 716v1M1210 717v1M1211 718v1M1212 719v2M1213 721v1M1214 722v1M1215 723v1M1216 724v1M1217 724v1M1218 725v1M1219 726v1M1220 727v1M1221 728v1M1222 729v1M1223 730v1M1224 730v1M1225 731v1M1226 732v1M1227 732v1M1228 733v1M1229 733v1M1230 734v1M1231 735v1M1232 736v1M1233 737v1M1234 738v1M1235 739v1M1236 740v1M1237 741v1M1238 742v1M1239 743v1M1240 744v1M1241 745v1M1242 746v1M1243 747v1M1244 748v1M1245 749v1M1246 750v1M1247 751v2M1248 753v1M1249 754v1M1250 755v2M1251 757v1M1252 758v1M1253 759v1M1254 760v1M1255 761v2M1256 763v1M1257 764v1M1258 765v1M1259 766v1M1260 767v1M1261 768v1M1262 769v1M1263 770v1M1264 771v1M1265 772v2M1266 774v1M1267 775v2M1268 777v2M1269 779v1M1270 780v2M1271 782v1M1272 783v2M1273 785v1M1274 786v1M1275 787v1M1276 788v1M1277 788v1M1278 789v1M1279 790v1M1280 791v1M1281 791v1M1282 792v1M1283 793v2M1284 795v1M1285 796v1M1286 796v1M1287 797v1M1288 798v1M1289 799v1M1290 799v1M1291 800v1M1292 801v1M1293 802v1M1294 803v1M1295 803v1M1296 804v1M1297 804v1M1298 805v1M1299 805v1M1300 806v1M1301 806v1M1302 807v1M1303 807v1M1304 808v1M1305 808v1M1306 809v1M1307 810v1M1308 810v1M1309 811v1M1310 811v1M1311 811v1M1312 812v1M1313 812v1M1314 813v1M1315 813v1M1316 813v1M1317 813v1M1318 814v1M1319 814v1M1320 814v1M1321 815v1M1322 815v1M1323 816v1M1324 816v1M1325 816v1M1326 817v1M1327 817v1M1328 817v1M1329 817v1M1330 817v1M1331 818v1M1332 818v1M1333 818v1M1334 818v1M1335 818v1M1336 818v1M1337 817v1M1338 817v1M1339 816v1M1340 815v1M1341 814v1M1342 813v1M1343 812v1M1344 811v1M1345 810v1M1346 810v1M1347 809v1M1348 808v1M1349 807v1M1350 807v1M1351 806v1M1352 805v1M1353 804v1M1354 804v1M1355 803v1M1356 802v1M1357 802v1M1358 801v1M1359 800v1M1360 800v1M1361 800v1M1362 800v1M1363 800v1M1364 801v1M1365 801v1M1366 802v1M1367 802v1M1368 802v1M1369 803v1M1370 803v1M1371 803v1M1372 804v1M1373 804v1M1374 804v1M1375 804v1M1376 804v1M1377 805v1M1378 805v1M1379 806v1M1380 806v1M1381 807v1M1382 807v1M1383 808v1M1384 808v1M1385 809v1M1386 809v1M1387 810v1M1388 811v1M1389 811v1M1390 811v1M1391 811v1M1392 812v1M1393 812v1M1394 812v1M1395 812v1M1396 813v1M1397 813v1M1398 813v1M1399 813v1M1400 813v1M1401 813v1M1402 813v1M1403 813v1M1404 813v1M1405 813v1M1406 813v1M1407 814v1M1408 814v1M1409 814v1M1410 813v1M1411 813v1M1412 813v1M1413 812v1M1414 812v1M1415 812v1M1416 812v1M1417 812v1M1418 811v1M1419 811v1M1420 811v1M1421 810v1M1422 810v1M1423 809v1M1424 809v1M1425 808v1M1426 808v1M1427 807v1M1428 806v1M1429 806v1M1430 805v1M1431 804v1M1432 803v1M1433 802v1M1434 801v1M1435 800v1M1436 799v1M1437 799v1M1438 798v1M1439 798v1M1440 797v1M1441 797v1M1442 796v1M1443 796v1M1444 795v1M1445 794v1M1446 793v1M1447 792v1M1448 790v2M1449 789v1M1450 788v1M1451 787v1M1452 785v2M1453 784v1M1454 783v1M1455 782v1M1456 781v1M1457 780v1M1458 779v1M1459 778v1M1460 777v1M1461 776v1M1462 775v1M1463 775v1M1464 774v1M1465 774v1M1466 773v1M1467 772v1M1468 772v1M1469 772v1M1470 771v1M1471 771v1M1472 771v1M1473 771v1M1474 771v1M1475 770v1M1476 770v1M1477 770v1M1478 769v1M1479 769v1M1480 769v1M1481 768v1M1482 768v1M1483 767v1M1484 767v1M1485 766v1M1486 766v1M1487 766v1M1488 765v1M1489 764v1M1490 764v1M1491 763v1M1492 763v1M1493 763v1M1494 762v1M1495 762v1M1496 762v1M1497 761v1M1498 761v1M1499 761v1M1500 761v1M1501 761v1M1502 762v1M1503 763v2M1504 765v1M1505 766v1M1506 767v1M1507 768v1M1508 769v1M1509 770v1M1510 770v1M1511 769v1M1512 768v1M1513 766v2M1514 765v1M1515 764v1M1516 763v1M1517 762v1M1518 761v1M1519 760v1M1520 759v1M1521 759v1M1522 758v1M1523 757v1M1524 757v1M1525 756v1M1526 755v1M1527 754v1M1528 753v1M1529 752v1M1530 751v1M1531 751v1M1532 750v1M1533 749v1M1534 748v1M1535 747v1M1536 747v1M1537 746v1M1538 745v1M1539 745v1M1540 744v1M1541 744v1M1542 743v1M1543 743v1M1544 742v1M1545 742v1M1546 742v1M1547 741v1M1548 741v1M1549 741v1M1550 740v1M1551 740v1M1552 739v1M1553 739v1M1554 739v1M1555 738v1M1556 738v1M1557 738v1M1558 737v1M1559 737v1M1560 737v1M1561 736v1M1562 736v1M1563 736v1M1564 735v1M1565 735v1M1566 734v1M1567 734v1M1568 733v1M1569 733v1M1570 733v1M1571 732v1M1572 732v1M1573 731v1M1574 731v1M1575 731v1M1576 730v1M1577 730v1M1578 730v1M1579 730v1M1580 729v1M1581 729v1M1582 728v1M1583 728v1M1584 728v1M1585 728v1M1586 727v1M1587 727v1M1588 727v1M1589 726v1M1590 726v1M1591 726v1M1592 726v1M1593 725v1M1594 725v1M1595 724v1M1596 724v1M1597 724v1M1598 723v1M1599 723v1M1600 723v1M1601 722v1M1602 722v1M1603 723v1M1604 722v1M1605 722v1M1606 722v1M1607 722v1M1608 722v1M1609 723v1M1610 723v1M1611 723v1M1612 723v1M1613 723v1M1614 723v1M1615 723v1M1616 722v1M1617 722v1M1618 723v1M1619 723v1M1620 723v1M1621 722v1M1622 722v1M1623 722v1M1624 721v1M1625 721v1M1626 721v1M1627 721v1"/><path d="M3 308v1M4 309v2M5 311v2M6 313v2M7 315v2M8 317v2M9 319v1M10 320v2M11 322v1M12 323v1M13 324v1M14 325v1M15 325v1M16 326v1M17 327v1M18 327v1M19 328v1M20 329v1M21 329v1M22 330v1M23 330v1M24 331v1M25 331v1M26 332v1M27 333v1M28 333v1M29 333v1M30 334v1M31 334v1M32 334v1M33 334v1M34 334v1M35 334v1M36 334v1M37 334v1M38 333v1M39 333v1M40 332v1M41 332v1M42 331v1M43 330v1M44 330v1M45 329v1M46 328v1M47 328v1M48 327v1M49 327v1M50 326v1M51 326v1M52 325v1M53 325v1M54 324v1M55 323v1M56 322v1M57 321v1M58 320v1M59 319v1M60 318v1M61 317v1M62 316v1M63 315v1M64 314v1M65 312v2M66 311v1M67 310v1M68 308v2M69 307v1M70 306v1M71 304v2M72 302v2M73 300v2M74 298v2M75 297v1M76 295v2M77 293v2M78 291v2M79 289v2M80 288v1M81 286v2M82 285v1M83 284v1M84 283v1M85 282v1M86 281v1M87 280v1M88 280v1M89 280v1M90 279v1M91 279v1M92 279v1M93 279v1M94 279v1M95 279v1M96 279v1M97 279v1M98 279v1M99 279v1M100 279v1M101 279v1M102 279v1M103 279v1M104 279v1M105 279v1M106 279v1M107 280v1M108 280v1M109 280v1M110 280v1M111 280v1M112 280v1M113 280v1M114 280v1M115 280v1M116 280v1M117 280v1M118 280v1M119 280v1M120 280v1M121 280v1M122 280v1M123 279v1M124 278v1M125 276v2M126 275v1M127 274v1M128 273v1M129 273v1M130 272v1M131 271v1M132 271v1M133 270v1M134 269v1M135 269v1M136 268v1M137 268v1M138 267v1M139 267v1M140 266v1M141 265v1M142 265v1M143 264v1M144 264v1M145 263v1M146 263v1M147 263v1M148 262v1M149 262v1M150 262v1M151 262v1M152 262v1M153 261v1M154 261v1M155 260v1M156 260v1M157 260v1M158 260v1M159 260v1M160 259v1M161 259v1M162 259v1M163 259v1M164 259v1M165 258v1M166 258v1M167 258v1M168 257v1M169 257v1M170 257v1M171 257v1M172 258v1M173 258v1M174 258v1M175 259v1M176 260v1M177 260v1M178 260v1M179 260v1M180 260v1M181 259v1M182 259v1M183 259v1M184 258v1M185 258v1M186 258v1M187 258v1M188 257v1M189 257v1M190 256v1M191 256v1M192 255v1M193 254v1M194 253v1M195 252v1M196 252v1M197 251v1M198 251v1M199 250v1M200 250v1M201 250v1M202 249v1M203 249v1M204 249v1M205 249v1M206 249v1M207 248v1M208 248v1M209 247v1M210 247v1M211 246v1M212 246v1M213 245v1M214 245v1M215 244v1M216 243v1M217 242v1M218 240v2M219 238v2M220 236v2M221 234v2M222 232v2M223 230v2M224 228v2M225 226v2M226 224v2M227 221v3M228 219v2M229 216v3M230 214v2M231 211v3M232 209v2M233 207v2M234 204v3M235 202v2M236 200v2M237 198v2M238 196v2M239 194v2M240 192v2M241 191v1M242 190v1M243 189v1M244 188v1M245 187v1M246 186v1M247 186v1M248 185v1M249 185v1M250 185v1M251 185v1M252 185v1M253 186v1M254 186v1M255 187v1M256 187v1M257 188v1M258 189v1M259 190v1M260 191v1M261 192v1M262 193v2M263 195v1M264 196v1M265 197v1M266 198v1M267 199v1M268 200v1M269 200v1M270 201v1M271 202v1M272 202v1M273 203v1M274 203v1M275 204v1M276 204v1M277 205v1M278 205v1M279 206v1M280 206v1M281 206v1M282 207v1M283 207v1M284 208v1M285 208v1M286 209v1M287 209v1M288 210v1M289 210v1M290 210v1M291 211v1M292 211v1M293 211v1M294 212v1M295 213v1M296 214v1M297 215v1M298 216v2M299 218v2M300 220v2M301 222v2M302 224v3M303 227v2M304 229v2M305 231v3M306 234v2M307 236v2M308 238v2M309 240v3M310 243v3M311 246v3M312 249v2M313 251v3M314 254v1M315 255v2M316 257v1M317 258v1M318 259v1M319 260v1M320 261v1M321 262v1M322 263v1M323 264v1M324 265v1M325 266v1M326 267v1M327 267v1M328 268v1M329 269v1M330 270v1M331 271v1M332 272v1M333 273v1M334 273v1M335 274v1M336 274v1M337 275v1M338 275v1M339 275v1M340 276v1M341 276v1M342 276v1M343 275v1M344 275v1M345 275v1M346 274v1M347 274v1M348 274v1M349 273v1M350 273v1M351 273v1M352 273v1M353 273v1M354 273v1M355 273v1M356 274v1M357 274v1M358 274v1M359 275v1M360 275v1M361 275v1M362 275v1M363 276v1M364 277v1M365 278v1M366 279v1M367 279v1M368 280v1M369 281v1M370 282v1M371 283v1M372 284v1M373 284v1M374 285v1M375 285v1M376 286v1M377 286v1M378 287v1M379 288v1M380 289v1M381 290v1M382 291v1M383 291v1M384 292v1M385 293v1M386 293v1M387 294v1M388 295v1M389 295v1M390 295v1M391 296v1M392 296v1M393 296v1M394 296v1M395 296v1M396 296v1M397 296v1M398 296v1M399 297v1M400 297v1M401 297v1M402 298v1M403 298v1M404 299v1M405 300v1M406 301v2M407 303v1M408 304v1M409 305v1M410 306v1M411 307v1M412 307v1M413 308v1M414 309v1M415 309v1M416 310v1M417 310v1M418 311v1M419 312v1M420 313v1M421 313v1M422 314v1M423 314v1M424 315v1M425 315v1M426 316v1M427 316v1M428 316v1M429 316v1M430 316v1M431 316v1M432 315v1M433 315v1M434 315v1M435 315v1M436 315v1M437 315v1M438 315v1M439 316v1M440 317v1M441 318v1M442 319v1M443 320v1M444 321v1M445 321v1M446 322v1M447 323v1M448 324v1M449 324v1M450 325v1M451 326v1M452 327v1M453 328v1M454 329v2M455 331v1M456 332v1M457 333v1M458 333v1M459 334v1M460 335v1M461 335v1M462 336v1M463 336v1M464 336v1M465 336v1M466 336v1M467 336v1M468 336v1M469 337v1M470 337v1M471 337v1M472 338v1M473 339v1M474 339v1M475 339v1M476 340v1M477 340v1M478 340v1M479 340v1M480 340v1M481 340v1M482 340v1M483 340v1M484 341v1M485 341v1M486 341v1M487 341v1M488 341v1M489 340v1M490 339v1M491 338v1M492 338v1M493 337v1M494 336v1M495 336v1M496 335v1M497 335v1M498 335v1M499 335v1M500 335v1M501 335v1M502 335v1M503 336v1M504 335v1M505 335v1M506 335v1M507 335v1M508 335v1M509 336v1M510 336v1M511 336v1M512 337v1M513 337v1M514 337v1M515 338v1M516 338v1M517 338v1M518 339v1M519 339v1M520 339v1M521 340v1M522 340v1M523 340v1M524 340v1M525 341v1M526 342v2M527 344v1M528 345v2M529 347v2M530 349v2M531 351v1M532 352v2M533 354v1M534 355v2M535 357v1M536 358v2M537 360v1M538 361v2M539 363v2M540 365v2M541 367v2M542 369v2M543 371v1M544 372v2M545 374v1M546 375v1M547 376v1M548 377v1M549 378v2M550 380v1M551 381v1M552 382v1M553 383v2M554 385v1M555 386v2M556 388v1M557 389v1M558 390v2M559 392v1M560 393v1M561 394v2M562 396v1M563 397v1M564 398v1M565 398v1M566 399v1M567 399v1M568 400v1M569 401v1M570 402v1M571 403v1M572 403v1M573 403v1M574 404v1M575 404v1M576 405v1M577 405v1M578 406v1M579 406v1M580 406v1M581 406v1M582 406v1M583 406v1M584 406v1M585 407v1M586 408v2M587 410v2M588 412v2M589 414v2M590 416v1M591 417v2M592 419v1M593 420v2M594 422v2M595 424v2M596 426v2M597 428v1M598 429v2M599 431v2M600 433v2M601 435v2M602 437v2M603 439v2M604 441v3M605 444v2M606 446v3M607 449v2M608 451v3M609 454v2M610 456v3M611 459v2M612 461v2M613 463v2M614 465v2M615 467v2M616 469v1M617 470v2M618 472v1M619 473v1M620 474v2M621 476v1M622 477v1M623 478v1M624 479v1M625 480v1M626 481v1M627 482v1M628 483v1M629 484v1M630 484v1M631 485v1M632 486v1M633 487v1M634 488v2M635 490v1M636 491v2M637 493v2M638 495v2M639 497v2M640 499v2M641 501v1M642 502v3M643 505v2M644 507v2M645 509v2M646 511v2M647 513v3M648 516v2M649 518v3M650 521v3M651 524v2M652 526v3M653 529v3M654 532v3M655 535v3M656 538v3M657 541v3M658 544v3M659 547v3M660 550v3M661 553v2M662 555v2M663 557v1M664 558v2M665 560v2M666 562v1M667 563v2M668 565v2M669 567v3M670 570v2M671 572v3M672 575v2M673 577v2M674 579v2M675 581v1M676 582v1M677 583v1M678 584v1M679 585v2M680 587v1M681 588v1M682 589v2M683 591v2M684 593v1M685 594v2M686 596v2M687 598v2M688 600v1M689 601v2M690 603v1M691 604v2M692 606v2M693 608v1M694 609v1M695 610v2M696 612v1M697 613v1M698 614v1M699 615v1M700 616v1M701 617v2M702 619v1M703 620v1M704 621v1M705 622v1M706 623v1M707 624v1M708 625v1M709 626v1M710 626v1M711 626v1M712 626v1M713 626v1M714 625v1M715 625v1M716 625v1M717 625v1M718 625v1M719 625v1M720 625v1M721 625v1M722 625v1M723 625v1M724 624v1M725 624v1M726 624v1M727 625v1M728 625v1M729 626v1M730 627v1M731 628v2M732 630v1M733 631v1M734 632v1M735 633v1M736 634v1M737 635v1M738 636v1M739 637v1M740 637v1M741 637v1M742 638v1M743 638v1M744 638v1M745 639v1M746 639v1M747 639v1M748 640v1M749 639v1M750 639v1M751 638v1M752 638v1M753 637v1M754 636v1M755 635v1M756 633v2M757 632v1M758 631v1M759 630v1M760 630v1M761 630v1M762 630v1M763 631v1M764 631v1M765 631v1M766 630v1M767 629v1M768 628v1M769 628v1M770 627v1M771 627v1M772 627v1M773 627v1M774 628v1M775 628v1M776 628v1M777 629v1M778 629v1M779 630v1M780 630v1M781 631v1M782 632v1M783 633v1M784 634v2M785 636v1M786 637v2M787 639v1M788 640v2M789 642v2M790 644v2M791 646v1M792 647v2M793 649v1M794 650v2M795 652v1M796 653v1M797 654v1M798 655v1M799 656v1M800 657v1M801 658v1M802 659v1M803 659v1M804 659v1M805 659v1M806 659v1M807 658v1M808 658v1M809 658v1M810 657v1M811 657v1M812 657v1M813 657v1M814 657v1M815 657v1M816 657v1M817 657v1M818 657v1M819 657v1M820 657v1M821 657v1M822 656v1M823 656v1M824 655v1M825 655v1M826 655v1M827 655v1M828 654v1M829 653v1M830 652v1M831 652v1M832 651v1M833 651v1M834 651v1M835 651v1M836 652v1M837 652v1M838 652v1M839 652v1M840 652v1M841 652v1M842 652v1M843 652v1M844 653v1M845 653v1M846 654v1M847 654v1M848 655v1M849 655v1M850 656v1M851 656v1M852 656v1M853 656v1M854 656v1M855 655v1M856 655v1M857 654v1M858 654v1M859 654v1M860 653v1M861 653v1M862 653v1M863 653v1M864 653v1M865 653v1M866 653v1M867 653v1M868 653v1M869 653v1M870 653v1M871 653v1M872 654v1M873 654v1M874 654v1M875 654v1M876 654v1M877 655v1M878 655v1M879 656v1M880 657v1M881 657v1M882 658v1M883 659v1M884 660v1M885 661v1M886 662v1M887 663v1M888 664v1M889 665v2M890 667v1M891 668v2M892 670v2M893 672v2M894 674v2M895 676v1M896 677v1M897 678v1M898 679v2M899 681v1M900 682v1M901 683v1M902 683v1M903 684v1M904 684v1M905 684v1M906 685v1M907 685v1M908 685v1M909 686v1M910 687v1M911 687v1M912 688v1M913 688v1M914 688v1M915 689v1M916 688v1M917 688v1M918 688v1M919 687v1M920 686v1M921 686v1M922 685v1M923 684v1M924 683v1M925 682v1M926 681v1M927 680v1M928 679v1M929 679v1M930 678v1M931 677v1M932 677v1M933 676v1M934 675v1M935 675v1M936 674v1M937 673v1M938 673v1M939 672v1M940 672v1M941 671v1M942 671v1M943 670v1M944 669v1M945 668v1M946 668v1M947 667v1M948 666v1M949 666v1M950 665v1M951 664v1M952 663v1M953 663v1M954 662v1M955 661v1M956 661v1M957 660v1M958 660v1M959 659v1M960 659v1M961 658v1M962 658v1M963 657v1M964 656v1M965 655v1M966 655v1M967 654v1M968 653v1M969 653v1M970 652v1M971 652v1M972 651v1M973 651v1M974 650v1M975 649v1M976 649v1M977 649v1M978 648v1M979 648v1M980 647v1M981 647v1M982 647v1M983 646v1M984 646v1M985 645v1M986 645v1M987 644v1M988 643v1M989 643v1M990 642v1M991 641v1M992 641v1M993 640v1M994 640v1M995 639v1M996 639v1M997 639v1M998 638v1M999 638v1M1000 638v1M1001 637v1M1002 637v1M1003 637v1M1004 637v1M1005 637v1M1006 637v1M1007 637v1M1008 636v1M1009 636v1M1010 636v1M1011 636v1M1012 636v1M1013 636v1M1014 635v1M1015 635v1M1016 635v1M1017 635v1M1018 635v1M1019 635v1M1020 635v1M1021 635v1M1022 635v1M1023 635v1M1024 635v1M1025 636v1M1026 636v1M1027 636v1M1028 636v1M1029 637v1M1030 637v1M1031 637v1M1032 637v1M1033 637v1M1034 637v1M1035 637v1M1036 637v1M1037 637v1M1038 636v1M1039 636v1M1040 636v1M1041 636v1M1042 636v1M1043 635v1M1044 635v1M1045 635v1M1046 635v1M1047 635v1M1048 634v1M1049 634v1M1050 634v1M1051 634v1M1052 634v1M1053 633v1M1054 633v1M1055 633v1M1056 633v1M1057 632v1M1058 632v1M1059 632v1M1060 632v1M1061 632v1M1062 631v1M1063 631v1M1064 631v1M1065 630v1M1066 629v1M1067 629v1M1068 627v2M1069 626v1M1070 625v1M1071 624v1M1072 623v1M1073 622v1M1074 621v1M1075 620v1M1076 619v1M1077 618v1M1078 618v1M1079 617v1M1080 616v1M1081 615v1M1082 615v1M1083 614v1M1084 613v1M1085 612v1M1086 611v1M1087 611v1M1088 610v1M1089 610v1M1090 609v1M1091 608v1M1092 607v1M1093 606v1M1094 605v1M1095 604v1M1096 603v1M1097 602v1M1098 602v1M1099 601v1M1100 601v1M1101 600v1M1102 600v1M1103 599v1M1104 599v1M1105 599v1M1106 598v1M1107 598v1M1108 597v1M1109 597v1M1110 597v1M1111 597v1M1112 597v1M1113 596v1M1114 596v1M1115 595v1M1116 595v1M1117 594v1M1118 594v1M1119 593v1M1120 593v1M1121 592v1M1122 592v1M1123 592v1M1124 592v1M1125 592v1M1126 592v1M1127 592v1M1128 592v1M1129 593v1M1130 593v1M1131 594v1M1132 594v1M1133 595v1M1134 596v1M1135 596v1M1136 597v1M1137 597v1M1138 598v1M1139 598v1M1140 599v1M1141 600v1M1142 601v1M1143 602v1M1144 603v1M1145 604v1M1146 605v1M1147 606v2M1148 608v1M1149 609v1M1150 610v1M1151 611v1M1152 612v2M1153 614v1M1154 615v1M1155 616v2M1156 618v1M1157 619v1M1158 620v2M1159 622v2M1160 624v1M1161 625v2M1162 627v1M1163 628v1M1164 629v2M1165 631v1M1166 632v2M1167 634v1M1168 635v2M1169 637v2M1170 639v2M1171 641v1M1172 642v2M1173 644v2M1174 646v1M1175 647v2M1176 649v1M1177 650v2M1178 652v1M1179 653v2M1180 655v1M1181 656v1M1182 657v2M1183 659v1M1184 660v2M1185 662v2M1186 664v1M1187 665v2M1188 667v2M1189 669v1M1190 670v2M1191 672v2M1192 674v2M1193 676v1M1194 677v2M1195 679v2M1196 681v2M1197 683v2M1198 685v2M1199 687v2M1200 689v2M1201 691v2M1202 693v2M1203 695v1M1204 696v2M1205 698v2M1206 700v1M1207 701v1M1208 702v1M1209 703v2M1210 705v1M1211 706v1M1212 707v1M1213 708v1M1214 709v1M1215 710v1M1216 711v1M1217 712v1M1218 713v1M1219 714v1M1220 715v1M1221 716v1M1222 717v1M1223 718v1M1224 719v1M1225 719v1M1226 720v1M1227 721v1M1228 721v1M1229 722v1M1230 723v1M1231 724v1M1232 725v1M1233 726v1M1234 727v1M1235 728v1M1236 729v1M1237 730v1M1238 731v1M1239 732v1M1240 733v1M1241 734v1M1242 735v1M1243 736v1M1244 737v1M1245 738v1M1246 739v1M1247 740v2M1248 742v1M1249 743v1M1250 744v2M1251 746v1M1252 747v1M1253 748v1M1254 749v1M1255 750v1M1256 751v1M1257 752v1M1258 753v2M1259 755v1M1260 756v1M1261 757v1M1262 758v1M1263 759v1M1264 760v1M1265 761v2M1266 763v1M1267 764v2M1268 766v1M1269 767v2M1270 769v1M1271 770v2M1272 772v1M1273 773v1M1274 774v1M1275 775v1M1276 776v1M1277 777v1M1278 778v1M1279 778v1M1280 779v1M1281 780v1M1282 781v1M1283 782v1M1284 783v1M1285 784v1M1286 785v1M1287 786v1M1288 787v1M1289 788v1M1290 789v1M1291 789v1M1292 790v1M1293 791v1M1294 792v1M1295 793v1M1296 793v1M1297 794v1M1298 795v1M1299 795v1M1300 796v1M1301 796v1M1302 797v1M1303 798v1M1304 798v1M1305 799v1M1306 799v1M1307 800v1M1308 801v1M1309 801v1M1310 802v1M1311 802v1M1312 803v1M1313 803v1M1314 804v1M1315 804v1M1316 804v1M1317 805v1M1318 805v1M1319 806v1M1320 806v1M1321 807v1M1322 807v1M1323 808v1M1324 808v1M1325 808v1M1326 809v1M1327 809v1M1328 810v1M1329 810v1M1330 810v1M1331 810v1M1332 811v1M1333 811v1M1334 811v1M1335 811v1M1336 811v1M1337 811v1M1338 811v1M1339 810v1M1340 810v1M1341 809v1M1342 808v1M1343 808v1M1344 807v1M1345 806v1M1346 806v1M1347 805v1M1348 805v1M1349 804v1M1350 804v1M1351 803v1M1352 802v1M1353 802v1M1354 802v1M1355 801v1M1356 801v1M1357 800v1M1358 799v1M1359 799v1M1360 799v1M1361 799v1M1362 799v1M1363 799v1M1364 799v1M1365 800v1M1366 800v1M1367 801v1M1368 801v1M1369 801v1M1370 801v1M1371 802v1M1372 802v1M1373 802v1M1374 802v1M1375 803v1M1376 803v1M1377 803v1M1378 804v1M1379 804v1M1380 804v1M1381 805v1M1382 805v1M1383 806v1M1384 806v1M1385 807v1M1386 807v1M1387 808v1M1388 808v1M1389 809v1M1390 809v1M1391 809v1M1392 809v1M1393 810v1M1394 810v1M1395 810v1M1396 810v1M1397 810v1M1398 811v1M1399 811v1M1400 811v1M1401 811v1M1402 811v1M1403 811v1M1404 811v1M1405 811v1M1406 811v1M1407 811v1M1408 811v1M1409 811v1M1410 811v1M1411 811v1M1412 811v1M1413 811v1M1414 811v1M1415 810v1M1416 810v1M1417 810v1M1418 810v1M1419 810v1M1420 809v1M1421 809v1M1422 809v1M1423 808v1M1424 808v1M1425 807v1M1426 807v1M1427 807v1M1428 806v1M1429 805v1M1430 805v1M1431 804v1M1432 803v1M1433 803v1M1434 802v1M1435 801v1M1436 800v1M1437 800v1M1438 799v1M1439 799v1M1440 799v1M1441 798v1M1442 798v1M1443 797v1M1444 797v1M1445 796v1M1446 795v1M1447 794v1M1448 793v1M1449 792v1M1450 791v1M1451 790v1M1452 789v1M1453 788v1M1454 787v1M1455 786v1M1456 785v1M1457 784v1M1458 783v1M1459 782v1M1460 781v1M1461 780v1M1462 780v1M1463 779v1M1464 778v1M1465 778v1M1466 777v1M1467 777v1M1468 776v1M1469 776v1M1470 776v1M1471 775v1M1472 775v1M1473 775v1M1474 775v1M1475 774v1M1476 774v1M1477 774v1M1478 773v1M1479 773v1M1480 773v1M1481 772v1M1482 772v1M1483 771v1M1484 771v1M1485 770v1M1486 770v1M1487 770v1M1488 769v1M1489 768v1M1490 768v1M1491 767v1M1492 767v1M1493 767v1M1494 766v1M1495 766v1M1496 766v1M1497 765v1M1498 765v1M1499 764v1M1500 764v1M1501 765v1M1502 765v1M1503 766v1M1504 767v1M1505 768v1M1506 769v1M1507 770v1M1508 771v1M1509 772v1M1510 771v1M1511 771v1M1512 769v2M1513 768v1M1514 767v1M1515 766v1M1516 765v1M1517 764v1M1518 764v1M1519 763v1M1520 762v1M1521 762v1M1522 761v1M1523 761v1M1524 760v1M1525 759v1M1526 759v1M1527 758v1M1528 757v1M1529 756v1M1530 755v1M1531 755v1M1532 754v1M1533 753v1M1534 753v1M1535 752v1M1536 751v1M1537 750v1M1538 750v1M1539 749v1M1540 749v1M1541 748v1M1542 748v1M1543 747v1M1544 747v1M1545 747v1M1546 746v1M1547 746v1M1548 745v1M1549 745v1M1550 745v1M1551 744v1M1552 744v1M1553 743v1M1554 743v1M1555 742v1M1556 742v1M1557 742v1M1558 741v1M1559 741v1M1560 741v1M1561 740v1M1562 740v1M1563 739v1M1564 739v1M1565 738v1M1566 738v1M1567 738v1M1568 737v1M1569 737v1M1570 736v1M1571 736v1M1572 735v1M1573 735v1M1574 735v1M1575 734v1M1576 734v1M1577 734v1M1578 734v1M1579 733v1M1580 733v1M1581 732v1M1582 732v1M1583 732v1M1584 731v1M1585 731v1M1586 731v1M1587 731v1M1588 730v1M1589 730v1M1590 730v1M1591 729v1M1592 729v1M1593 729v1M1594 728v1M1595 728v1M1596 728v1M1597 727v1M1598 727v1M1599 726v1M1600 726v1M1601 726v1M1602 726v1M1603 726v1M1604 726v1M1605 726v1M1606 726v1M1607 726v1M1608 726v1M1609 726v1M1610 726v1M1611 726v1M1612 726v1M1613 725v1M1614 725v1M1615 725v1M1616 725v1M1617 725v1M1618 725v1M1619 725v1M1620 725v1M1621 725v1M1622 724v1M1623 724v1M1624 724v1M1625 724v1M1626 723v1M1627 723v1"/><path d="M3 306v1M4 307v1M5 308v2M6 310v2M7 312v1M8 313v2M9 315v1M10 316v1M11 317v1M12 318v1M13 319v1M14 320v1M15 321v1M16 321v1M17 322v1M18 323v1M19 323v1M20 324v1M21 324v1M22 325v1M23 325v1M24 326v1M25 327v1M26 327v1M27 328v1M28 328v1M29 329v1M30 329v1M31 329v1M32 329v1M33 329v1M34 329v1M35 329v1M36 330v1M37 330v1M38 329v1M39 329v1M40 329v1M41 328v1M42 328v1M43 327v1M44 327v1M45 326v1M46 326v1M47 325v1M48 325v1M49 325v1M50 324v1M51 324v1M52 323v1M53 323v1M54 322v1M55 322v1M56 321v1M57 320v1M58 319v1M59 318v1M60 318v1M61 317v1M62 316v1M63 315v1M64 314v1M65 312v2M66 311v1M67 310v1M68 309v1M69 308v1M70 307v1M71 305v2M72 304v1M73 302v2M74 301v1M75 299v2M76 297v2M77 296v1M78 294v2M79 293v1M80 291v2M81 290v1M82 289v1M83 288v1M84 287v1M85 286v1M86 286v1M87 285v1M88 284v1M89 284v1M90 284v1M91 284v1M92 283v1M93 283v1M94 283v1M95 283v1M96 283v1M97 283v1M98 283v1M99 283v1M100 283v1M101 283v1M102 282v1M103 282v1M104 282v1M105 283v1M106 283v1M107 283v1M108 283v1M109 283v1M110 283v1M111 283v1M112 283v1M113 282v1M114 282v1M115 282v1M116 282v1M117 283v1M118 283v1M119 283v1M120 283v1M121 283v1M122 282v1M123 281v1M124 280v1M125 279v1M126 278v1M127 277v1M128 277v1M129 276v1M130 275v1M131 275v1M132 274v1M133 273v1M134 273v1M135 272v1M136 272v1M137 271v1M138 271v1M139 270v1M140 270v1M141 269v1M142 269v1M143 268v1M144 268v1M145 267v1M146 267v1M147 267v1M148 266v1M149 266v1M150 266v1M151 266v1M152 265v1M153 265v1M154 265v1M155 264v1M156 264v1M157 264v1M158 264v1M159 264v1M160 263v1M161 263v1M162 263v1M163 263v1M164 262v1M165 262v1M166 262v1M167 261v1M168 261v1M169 261v1M170 261v1M171 261v1M172 261v1M173 261v1M174 262v1M175 262v1M176 263v1M177 263v1M178 263v1M179 263v1M180 262v1M181 262v1M182 262v1M183 262v1M184 261v1M185 261v1M186 261v1M187 261v1M188 260v1M189 260v1M190 259v1M191 259v1M192 258v1M193 257v1M194 256v1M195 256v1M196 255v1M197 255v1M198 254v1M199 254v1M200 253v1M201 253v1M202 253v1M203 252v1M204 252v1M205 252v1M206 252v1M207 251v1M208 251v1M209 250v1M210 250v1M211 249v1M212 249v1M213 248v1M214 248v1M215 247v1M216 246v1M217 245v1M218 243v2M219 242v1M220 240v2M221 238v2M222 237v1M223 235v2M224 233v2M225 231v2M226 229v2M227 227v2M228 225v2M229 223v2M230 221v2M231 219v2M232 217v2M233 215v2M234 213v2M235 210v3M236 208v2M237 207v1M238 205v2M239 203v2M240 202v1M241 200v2M242 199v1M243 198v1M244 198v1M245 197v1M246 196v1M247 195v1M248 195v1M249 194v1M250 194v1M251 194v1M252 194v1M253 194v1M254 195v1M255 195v1M256 195v1M257 196v1M258 197v1M259 197v1M260 198v1M261 199v1M262 200v1M263 201v1M264 202v1M265 202v1M266 203v1M267 204v1M268 204v1M269 205v1M270 205v1M271 206v1M272 206v1M273 207v1M274 207v1M275 207v1M276 208v1M277 208v1M278 208v1M279 209v1M280 209v1M281 209v1M282 209v1M283 210v1M284 210v1M285 211v1M286 211v1M287 211v1M288 212v1M289 212v1M290 212v1M291 212v1M292 213v1M293 213v1M294 213v1M295 214v1M296 215v1M297 216v1M298 217v1M299 218v2M300 220v1M301 221v2M302 223v2M303 225v2M304 227v3M305 230v2M306 232v1M307 233v2M308 235v2M309 237v3M310 240v2M311 242v3M312 245v2M313 247v2M314 249v1M315 250v1M316 251v1M317 252v1M318 253v1M319 254v1M320 255v1M321 256v1M322 257v1M323 258v1M324 259v1M325 260v1M326 261v1M327 261v1M328 262v1M329 263v1M330 264v1M331 265v1M332 266v1M333 267v1M334 267v1M335 268v1M336 268v1M337 268v1M338 269v1M339 269v1M340 270v1M341 270v1M342 270v1M343 270v1M344 269v1M345 269v1M346 269v1M347 269v1M348 269v1M349 269v1M350 269v1M351 269v1M352 269v1M353 269v1M354 269v1M355 269v1M356 269v1M357 270v1M358 270v1M359 270v1M360 271v1M361 271v1M362 271v1M363 272v1M364 273v1M365 273v1M366 274v1M367 275v1M368 276v1M369 277v1M370 278v1M371 278v1M372 279v1M373 280v1M374 280v1M375 280v1M376 281v1M377 281v1M378 282v1M379 283v1M380 284v1M381 285v1M382 285v1M383 286v1M384 287v1M385 287v1M386 288v1M387 289v1M388 289v1M389 290v1M390 290v1M391 290v1M392 291v1M393 291v1M394 291v1M395 291v1M396 291v1M397 291v1M398 291v1M399 292v1M400 292v1M401 293v1M402 293v1M403 293v1M404 294v1M405 295v1M406 296v2M407 298v1M408 299v1M409 300v1M410 300v1M411 301v1M412 302v1M413 303v1M414 303v1M415 304v1M416 304v1M417 305v1M418 306v1M419 306v1M420 307v1M421 308v1M422 308v1M423 309v1M424 309v1M425 310v1M426 310v1M427 311v1M428 311v1M429 311v1M430 311v1M431 310v1M432 310v1M433 310v1M434 310v1M435 310v1M436 310v1M437 310v1M438 311v1M439 311v1M440 312v1M441 313v1M442 314v1M443 315v1M444 316v1M445 316v1M446 317v1M447 318v1M448 319v1M449 319v1M450 320v1M451 321v1M452 322v1M453 323v1M454 324v1M455 325v1M456 326v1M457 327v1M458 328v1M459 328v1M460 329v1M461 329v1M462 330v1M463 330v1M464 330v1M465 330v1M466 330v1M467 331v1M468 331v1M469 331v1M470 332v1M471 332v1M472 333v1M473 333v1M474 334v1M475 334v1M476 334v1M477 335v1M478 335v1M479 335v1M480 335v1M481 335v1M482 335v1M483 336v1M484 336v1M485 336v1M486 337v1M487 337v1M488 336v1M489 336v1M490 335v1M491 334v1M492 334v1M493 334v1M494 333v1M495 333v1M496 332v1M497 332v1M498 332v1M499 332v1M500 332v1M501 332v1M502 333v1M503 333v1M504 333v1M505 333v1M506 333v1M507 333v1M508 333v1M509 333v1M510 334v1M511 334v1M512 335v1M513 335v1M514 335v1M515 335v1M516 336v1M517 336v1M518 336v1M519 337v1M520 337v1M521 337v1M522 337v1M523 337v1M524 338v1M525 338v1M526 339v2M527 341v1M528 342v2M529 344v2M530 346v1M531 347v1M532 348v2M533 350v1M534 351v1M535 352v2M536 354v1M537 355v1M538 356v2M539 358v1M540 359v2M541 361v2M542 363v2M543 365v1M544 366v1M545 367v2M546 369v1M547 370v1M548 371v1M549 372v1M550 373v1M551 374v1M552 375v1M553 376v2M554 378v1M555 379v1M556 380v1M557 381v2M558 383v1M559 384v1M560 385v2M561 387v1M562 388v1M563 389v1M564 390v1M565 390v1M566 391v1M567 392v1M568 392v1M569 393v1M570 394v1M571 395v1M572 395v1M573 396v1M574 396v1M575 396v1M576 397v1M577 398v1M578 398v1M579 398v1M580 399v1M581 399v1M582 399v1M583 399v1M584 399v1M585 400v1M586 401v2M587 403v1M588 404v2M589 406v2M590 408v1M591 409v2M592 411v1M593 412v2M594 414v2M595 416v1M596 417v2M597 419v1M598 420v2M599 422v1M600 423v2M601 425v2M602 427v2M603 429v2M604 431v2M605 433v3M606 436v2M607 438v2M608 440v2M609 442v3M610 445v2M611 447v2M612 449v1M613 450v2M614 452v2M615 454v2M616 456v2M617 458v1M618 459v1M619 460v2M620 462v1M621 463v1M622 464v2M623 466v1M624 467v1M625 468v1M626 469v1M627 470v1M628 471v1M629 471v1M630 472v1M631 473v1M632 474v1M633 475v1M634 476v2M635 478v2M636 480v1M637 481v2M638 483v2M639 485v2M640 487v1M641 488v2M642 490v2M643 492v2M644 494v2M645 496v2M646 498v2M647 500v2M648 502v3M649 505v2M650 507v3M651 510v2M652 512v3M653 515v2M654 517v3M655 520v3M656 523v3M657 526v2M658 528v3M659 531v3M660 534v2M661 536v2M662 538v2M663 540v2M664 542v1M665 543v2M666 545v2M667 547v1M668 548v3M669 551v2M670 553v2M671 555v2M672 557v3M673 560v2M674 562v1M675 563v2M676 565v1M677 566v1M678 567v2M679 569v1M680 570v1M681 571v2M682 573v1M683 574v2M684 576v2M685 578v2M686 580v1M687 581v2M688 583v2M689 585v1M690 586v2M691 588v2M692 590v1M693 591v2M694 593v1M695 594v1M696 595v2M697 597v1M698 598v1M699 599v1M700 600v2M701 602v1M702 603v1M703 604v2M704 606v1M705 607v1M706 608v1M707 609v1M708 610v1M709 610v1M710 611v1M711 611v1M712 611v1M713 612v1M714 612v1M715 612v1M716 612v1M717 612v1M718 612v1M719 612v1M720 613v1M721 613v1M722 613v1M723 613v1M724 613v1M725 613v1M726 613v1M727 614v1M728 614v1M729 615v1M730 616v2M731 618v1M732 619v1M733 620v1M734 621v1M735 622v1M736 623v1M737 624v1M738 625v1M739 626v1M740 626v1M741 627v1M742 627v1M743 627v1M744 628v1M745 628v1M746 629v1M747 629v1M748 630v1M749 630v1M750 630v1M751 629v1M752 629v1M753 628v1M754 628v1M755 627v1M756 626v1M757 625v1M758 624v1M759 624v1M760 624v1M761 624v1M762 624v1M763 624v1M764 624v1M765 624v1M766 624v1M767 624v1M768 623v1M769 622v1M770 622v1M771 622v1M772 622v1M773 622v1M774 623v1M775 623v1M776 624v1M777 624v1M778 625v1M779 625v1M780 626v1M781 626v1M782 627v1M783 628v1M784 629v2M785 631v1M786 632v1M787 633v2M788 635v1M789 636v2M790 638v1M791 639v2M792 641v1M793 642v1M794 643v2M795 645v1M796 646v1M797 647v1M798 648v1M799 649v1M800 650v1M801 651v1M802 651v1M803 652v1M804 652v1M805 652v1M806 652v1M807 652v1M808 652v1M809 651v1M810 651v1M811 651v1M812 651v1M813 651v1M814 652v1M815 652v1M816 652v1M817 652v1M818 652v1M819 652v1M820 652v1M821 652v1M822 651v1M823 651v1M824 651v1M825 651v1M826 651v1M827 650v1M828 650v1M829 650v1M830 649v1M831 648v1M832 648v1M833 648v1M834 648v1M835 648v1M836 648v1M837 649v1M838 649v1M839 649v1M840 649v1M841 649v1M842 649v1M843 649v1M844 650v1M845 650v1M846 651v1M847 651v1M848 652v1M849 652v1M850 653v1M851 653v1M852 653v1M853 653v1M854 653v1M855 653v1M856 652v1M857 652v1M858 652v1M859 651v1M860 651v1M861 651v1M862 651v1M863 651v1M864 651v1M865 651v1M866 651v1M867 651v1M868 651v1M869 651v1M870 652v1M871 652v1M872 652v1M873 652v1M874 652v1M875 652v1M876 653v1M877 653v1M878 654v1M879 654v1M880 655v1M881 655v1M882 656v1M883 657v1M884 658v1M885 659v1M886 659v1M887 660v1M888 661v1M889 662v2M890 664v1M891 665v1M892 666v2M893 668v2M894 670v1M895 671v2M896 673v1M897 674v1M898 675v1M899 676v1M900 677v1M901 678v1M902 678v1M903 679v1M904 679v1M905 679v1M906 679v1M907 680v1M908 680v1M909 681v1M910 681v1M911 682v1M912 682v1M913 683v1M914 683v1M915 683v1M916 683v1M917 683v1M918 683v1M919 683v1M920 682v1M921 681v1M922 681v1M923 680v1M924 679v1M925 679v1M926 678v1M927 677v1M928 676v1M929 676v1M930 675v1M931 675v1M932 674v1M933 674v1M934 673v1M935 673v1M936 672v1M937 672v1M938 671v1M939 671v1M940 671v1M941 670v1M942 670v1M943 669v1M944 668v1M945 668v1M946 667v1M947 667v1M948 666v1M949 666v1M950 665v1M951 664v1M952 664v1M953 663v1M954 663v1M955 662v1M956 661v1M957 661v1M958 661v1M959 660v1M960 660v1M961 660v1M962 659v1M963 658v1M964 658v1M965 657v1M966 656v1M967 656v1M968 655v1M969 655v1M970 654v1M971 654v1M972 653v1M973 653v1M974 652v1M975 652v1M976 651v1M977 651v1M978 651v1M979 650v1M980 650v1M981 650v1M982 649v1M983 649v1M984 648v1M985 648v1M986 647v1M987 647v1M988 646v1M989 645v1M990 645v1M991 644v1M992 644v1M993 643v1M994 643v1M995 642v1M996 642v1M997 642v1M998 641v1M999 641v1M1000 640v1M1001 640v1M1002 640v1M1003 640v1M1004 640v1M1005 640v1M1006 639v1M1007 639v1M1008 639v1M1009 639v1M1010 639v1M1011 638v1M1012 638v1M1013 638v1M1014 638v1M1015 638v1M1016 638v1M1017 637v1M1018 637v1M1019 637v1M1020 637v1M1021 637v1M1022 637v1M1023 638v1M1024 638v1M1025 638v1M1026 638v1M1027 638v1M1028 638v1M1029 638v1M1030 639v1M1031 639v1M1032 639v1M1033 639v1M1034 639v1M1035 639v1M1036 638v1M1037 638v1M1038 638v1M1039 638v1M1040 638v1M1041 638v1M1042 637v1M1043 637v1M1044 637v1M1045 637v1M1046 636v1M1047 636v1M1048 636v1M1049 636v1M1050 636v1M1051 636v1M1052 635v1M1053 635v1M1054 635v1M1055 635v1M1056 634v1M1057 634v1M1058 634v1M1059 634v1M1060 633v1M1061 633v1M1062 633v1M1063 633v1M1064 632v1M1065 632v1M1066 631v1M1067 631v1M1068 630v1M1069 629v1M1070 628v1M1071 627v1M1072 626v1M1073 625v1M1074 624v1M1075 623v1M1076 622v1M1077 622v1M1078 621v1M1079 620v1M1080 620v1M1081 619v1M1082 618v1M1083 617v1M1084 617v1M1085 616v1M1086 615v1M1087 615v1M1088 614v1M1089 614v1M1090 613v1M1091 612v1M1092 611v1M1093 610v1M1094 609v1M1095 609v1M1096 608v1M1097 607v1M1098 606v1M1099 606v1M1100 605v1M1101 605v1M1102 604v1M1103 604v1M1104 604v1M1105 603v1M1106 603v1M1107 602v1M1108 602v1M1109 602v1M1110 601v1M1111 601v1M1112 601v1M1113 601v1M1114 600v1M1115 600v1M1116 599v1M1117 599v1M1118 598v1M1119 598v1M1120 597v1M1121 597v1M1122 596v1M1123 596v1M1124 596v1M1125 596v1M1126 596v1M1127 596v1M1128 596v1M1129 597v1M1130 597v1M1131 598v1M1132 598v1M1133 598v1M1134 599v1M1135 599v1M1136 600v1M1137 600v1M1138 600v1M1139 601v1M1140 601v1M1141 602v1M1142 603v1M1143 603v1M1144 604v1M1145 605v1M1146 606v1M1147 607v1M1148 608v1M1149 609v1M1150 610v1M1151 611v1M1152 612v1M1153 613v1M1154 614v2M1155 616v1M1156 617v1M1157 618v1M1158 619v2M1159 621v1M1160 622v1M1161 623v2M1162 625v1M1163 626v1M1164 627v1M1165 628v1M1166 629v1M1167 630v2M1168 632v1M1169 633v2M1170 635v2M1171 637v1M1172 638v2M1173 640v1M1174 641v1M1175 642v2M1176 644v1M1177 645v1M1178 646v2M1179 648v1M1180 649v1M1181 650v1M1182 651v2M1183 653v1M1184 654v1M1185 655v2M1186 657v1M1187 658v2M1188 660v2M1189 662v1M1190 663v2M1191 665v1M1192 666v2M1193 668v1M1194 669v2M1195 671v2M1196 673v2M1197 675v2M1198 677v1M1199 678v2M1200 680v2M1201 682v2M1202 684v1M1203 685v2M1204 687v1M1205 688v2M1206 690v1M1207 691v1M1208 692v1M1209 693v2M1210 695v1M1211 696v1M1212 697v1M1213 698v1M1214 699v1M1215 700v1M1216 701v1M1217 702v1M1218 703v1M1219 704v1M1220 705v1M1221 706v1M1222 707v1M1223 708v1M1224 709v1M1225 709v1M1226 710v1M1227 711v1M1228 712v1M1229 712v1M1230 713v1M1231 714v1M1232 715v1M1233 716v1M1234 717v1M1235 718v1M1236 719v1M1237 720v1M1238 721v1M1239 722v1M1240 723v1M1241 724v1M1242 725v1M1243 726v1M1244 727v1M1245 728v1M1246 729v1M1247 730v2M1248 732v1M1249 733v1M1250 734v2M1251 736v1M1252 737v1M1253 738v1M1254 739v1M1255 740v1M1256 741v1M1257 742v1M1258 743v1M1259 744v1M1260 745v1M1261 746v1M1262 747v1M1263 748v2M1264 750v1M1265 751v1M1266 752v2M1267 754v1M1268 755v1M1269 756v2M1270 758v1M1271 759v2M1272 761v1M1273 762v1M1274 763v1M1275 764v1M1276 765v1M1277 766v1M1278 767v1M1279 768v1M1280 769v1M1281 769v1M1282 770v2M1283 772v1M1284 773v1M1285 774v1M1286 775v1M1287 775v1M1288 776v1M1289 777v1M1290 778v1M1291 779v1M1292 780v1M1293 781v1M1294 782v1M1295 782v1M1296 783v1M1297 784v1M1298 784v1M1299 785v1M1300 786v1M1301 786v1M1302 787v1M1303 788v1M1304 788v1M1305 789v1M1306 790v1M1307 790v1M1308 791v1M1309 792v1M1310 792v1M1311 793v1M1312 793v1M1313 794v1M1314 795v1M1315 795v1M1316 795v1M1317 796v1M1318 796v1M1319 797v1M1320 798v1M1321 798v1M1322 799v1M1323 799v1M1324 800v1M1325 800v1M1326 801v1M1327 801v1M1328 801v1M1329 802v1M1330 802v1M1331 803v1M1332 803v1M1333 803v1M1334 804v1M1335 804v1M1336 804v1M1337 804v1M1338 804v1M1339 803v1M1340 803v1M1341 803v1M1342 802v1M1343 802v1M1344 801v1M1345 801v1M1346 800v1M1347 800v1M1348 800v1M1349 799v1M1350 799v1M1351 799v1M1352 798v1M1353 798v1M1354 798v1M1355 797v1M1356 797v1M1357 796v1M1358 796v1M1359 796v1M1360 795v1M1361 795v1M1362 796v1M1363 796v1M1364 796v1M1365 797v1M1366 797v1M1367 797v1M1368 798v1M1369 798v1M1370 798v1M1371 799v1M1372 799v1M1373 799v1M1374 799v1M1375 799v1M1376 800v1M1377 800v1M1378 801v1M1379 801v1M1380 801v1M1381 802v1M1382 802v1M1383 803v1M1384 803v1M1385 804v1M1386 804v1M1387 804v1M1388 805v1M1389 805v1M1390 806v1M1391 806v1M1392 806v1M1393 806v1M1394 806v1M1395 807v1M1396 807v1M1397 807v1M1398 807v1M1399 808v1M1400 808v1M1401 808v1M1402 808v1M1403 808v1M1404 808v1M1405 808v1M1406 808v1M1407 808v1M1408 809v1M1409 809v1M1410 809v1M1411 808v1M1412 808v1M1413 808v1M1414 808v1M1415 808v1M1416 808v1M1417 808v1M1418 808v1M1419 807v1M1420 807v1M1421 807v1M1422 807v1M1423 806v1M1424 806v1M1425 806v1M1426 805v1M1427 805v1M1428 805v1M1429 804v1M1430 804v1M1431 803v1M1432 802v1M1433 802v1M1434 801v1M1435 801v1M1436 800v1M1437 800v1M1438 799v1M1439 799v1M1440 799v1M1441 798v1M1442 798v1M1443 798v1M1444 797v1M1445 796v1M1446 796v1M1447 795v1M1448 794v1M1449 793v1M1450 792v1M1451 791v1M1452 790v1M1453 789v1M1454 788v1M1455 788v1M1456 787v1M1457 786v1M1458 785v1M1459 784v1M1460 783v1M1461 783v1M1462 782v1M1463 782v1M1464 781v1M1465 781v1M1466 780v1M1467 780v1M1468 779v1M1469 779v1M1470 778v1M1471 778v1M1472 778v1M1473 778v1M1474 777v1M1475 777v1M1476 777v1M1477 776v1M1478 776v1M1479 776v1M1480 775v1M1481 775v1M1482 775v1M1483 774v1M1484 774v1M1485 773v1M1486 773v1M1487 772v1M1488 772v1M1489 771v1M1490 771v1M1491 770v1M1492 770v1M1493 770v1M1494 769v1M1495 769v1M1496 769v1M1497 768v1M1498 768v1M1499 767v1M1500 767v1M1501 768v1M1502 768v1M1503 769v1M1504 770v1M1505 770v1M1506 771v1M1507 772v1M1508 772v1M1509 773v1M1510 773v1M1511 772v1M1512 771v1M1513 770v1M1514 769v1M1515 768v1M1516 767v1M1517 767v1M1518 766v1M1519 765v1M1520 765v1M1521 764v1M1522 764v1M1523 763v1M1524 763v1M1525 762v1M1526 762v1M1527 761v1M1528 760v1M1529 759v1M1530 759v1M1531 758v1M1532 757v1M1533 757v1M1534 756v1M1535 755v1M1536 755v1M1537 754v1M1538 753v1M1539 753v1M1540 752v1M1541 752v1M1542 752v1M1543 751v1M1544 751v1M1545 750v1M1546 750v1M1547 750v1M1548 749v1M1549 749v1M1550 748v1M1551 748v1M1552 747v1M1553 747v1M1554 747v1M1555 746v1M1556 746v1M1557 745v1M1558 745v1M1559 744v1M1560 744v1M1561 744v1M1562 743v1M1563 743v1M1564 742v1M1565 742v1M1566 742v1M1567 741v1M1568 741v1M1569 740v1M1570 740v1M1571 739v1M1572 739v1M1573 738v1M1574 738v1M1575 738v1M1576 737v1M1577 737v1M1578 737v1M1579 737v1M1580 736v1M1581 736v1M1582 735v1M1583 735v1M1584 735v1M1585 734v1M1586 734v1M1587 734v1M1588 734v1M1589 733v1M1590 733v1M1591 733v1M1592 732v1M1593 732v1M1594 732v1M1595 731v1M1596 731v1M1597 731v1M1598 730v1M1599 730v1M1600 730v1M1601 729v1M1602 729v1M1603 729v1M1604 729v1M1605 729v1M1606 729v1M1607 729v1M1608 729v1M1609 729v1M1610 729v1M1611 729v1M1612 728v1M1613 728v1M1614 728v1M1615 728v1M1616 728v1M1617 728v1M1618 728v1M1619 728v1M1620 728v1M1621 727v1M1622 727v1M1623 727v1M1624 727v1M1625 726v1M1626 726v1M1627 726v1"/></g>
<path d="M3 304.1 5 306.9 7 310.2 9 312.6 11 314.8 13 316.4 15 317.7 17 318.7 19 319.8 21 320.8 23 321.8 25 323.1 27 324.2 29 324.9 31 325.6 33 325.7 35 325.9 37 326.5 39 326.0 41 325.4 43 324.6 45 323.9 47 323.3 49 322.7 51 322.1 53 321.3 55 320.4 57 318.9 59 317.7 61 316.5 63 314.8 65 312.7 67 310.8 69 308.8 71 306.8 73 304.0 75 301.2 77 298.4 79 295.7 81 293.1 83 291.3 85 289.7 87 288.2 89 287.2 91 286.8 93 286.5 95 286.2 97 286.0 99 285.8 101 285.5 103 285.1 105 285.4 107 285.7 109 285.6 111 285.3 113 284.8 115 284.5 117 284.9 119 284.9 121 284.7 123 283.8 125 282.0 127 280.1 129 278.9 131 277.6 133 276.5 135 275.5 137 274.5 139 273.7 141 272.8 143 271.7 145 270.8 147 270.2 149 269.7 151 269.2 153 268.7 155 267.9 157 267.1 159 267.1 161 266.7 163 266.2 165 265.6 167 264.9 169 264.5 171 264.4 173 264.6 175 265.4 177 265.9 179 265.9 181 265.0 183 264.5 185 263.9 187 263.5 189 262.8 191 261.7 193 260.6 195 259.1 197 258.0 199 256.9 201 256.3 203 255.6 205 255.0 207 254.5 209 253.6 211 252.5 213 251.6 215 250.4 217 248.9 219 246.2 221 243.0 223 240.1 225 236.8 227 233.3 229 229.4 231 225.5 233 222.1 235 218.4 237 214.8 239 211.8 241 208.9 243 206.8 245 205.4 247 203.7 249 202.3 251 202.2 253 202.1 255 202.6 257 203.3 259 204.4 261 205.7 263 206.9 265 207.9 267 209.2 269 210.0 271 210.4 273 211.0 275 211.4 277 211.8 279 212.2 281 212.3 283 213.1 285 213.8 287 214.1 289 214.5 291 214.8 293 215.2 295 216.1 297 217.8 299 220.0 301 223.0 303 226.6 305 230.3 307 233.3 309 236.9 311 241.4 313 245.3 315 248.0 317 249.8 319 251.3 321 253.0 323 254.7 325 256.4 327 258.0 329 259.7 331 261.2 333 262.6 335 263.5 337 264.4 339 265.1 341 265.6 343 265.6 345 265.4 347 265.3 349 265.1 351 265.0 353 265.5 355 265.8 357 266.6 359 267.2 361 267.7 363 268.8 365 270.4 367 271.8 369 273.5 371 274.9 373 275.8 375 276.7 377 277.7 379 279.2 381 280.8 383 281.9 385 283.1 387 284.4 389 285.4 391 286.0 393 286.4 395 286.7 397 287.1 399 287.9 401 288.7 403 289.6 405 291.6 407 293.7 409 295.4 411 297.0 413 298.1 415 299.3 417 300.5 419 302.0 421 303.2 423 304.1 425 305.0 427 305.8 429 306.3 431 305.9 433 305.5 435 305.6 437 305.9 439 307.1 441 309.0 443 310.5 445 312.1 447 313.4 449 314.7 451 316.4 453 318.2 455 320.2 457 321.9 459 323.1 461 324.3 463 324.7 465 325.0 467 325.6 469 326.4 471 327.2 473 328.4 475 329.2 477 329.9 479 330.3 481 330.3 483 331.0 485 331.8 487 332.2 489 331.8 491 330.7 493 330.1 495 329.5 497 328.7 499 328.9 501 329.4 503 329.9 505 330.0 507 330.2 509 330.7 511 331.6 513 332.1 515 332.8 517 333.4 519 334.2 521 334.6 523 334.7 525 335.8 527 338.4 529 341.4 531 343.7 533 346.3 535 348.7 537 350.9 539 353.7 541 356.7 543 359.9 545 362.4 547 364.4 549 366.3 551 368.2 553 370.5 555 373.4 557 375.4 559 377.9 561 380.3 563 382.4 565 383.6 567 384.9 569 386.4 571 388.0 573 388.9 575 389.7 577 390.9 579 391.6 581 392.1 583 392.3 585 393.7 587 396.4 589 399.9 591 402.6 593 405.3 595 408.6 597 411.5 599 414.1 601 417.3 603 420.8 605 425.0 607 429.1 609 433.2 611 437.0 613 440.6 615 444.1 617 447.4 619 449.8 621 452.7 623 455.0 625 457.1 627 459.2 629 460.7 631 462.5 633 464.8 635 467.8 637 471.3 639 474.6 641 477.9 643 481.6 645 485.2 647 489.3 649 493.7 651 498.0 653 502.7 655 507.8 657 513.0 659 517.9 661 522.7 663 526.1 665 529.3 667 532.4 669 536.5 671 541.0 673 545.3 675 548.6 677 551.3 679 553.9 681 556.6 683 560.1 685 563.4 687 567.1 689 570.1 691 573.6 693 576.8 695 579.5 697 582.2 699 584.6 701 587.2 703 590.0 705 592.4 707 594.6 709 596.3 711 597.1 713 597.9 715 598.4 717 598.9 719 599.9 721 600.5 723 600.9 725 601.4 727 602.4 729 604.4 731 606.8 733 608.9 735 611.3 737 613.2 739 614.8 741 615.8 743 616.7 745 617.8 747 618.9 749 619.5 751 619.4 753 618.9 755 618.0 757 616.4 759 615.4 761 615.4 763 616.2 765 616.8 767 616.5 769 615.4 771 615.1 773 616.0 775 616.8 777 617.8 779 618.9 781 620.2 783 622.1 785 624.7 787 627.1 789 629.9 791 632.9 793 635.4 795 637.8 797 639.6 799 641.4 801 643.3 803 644.2 805 644.5 807 644.6 809 644.3 811 644.2 813 644.7 815 645.1 817 645.2 819 645.5 821 645.9 823 645.5 825 645.2 827 645.3 829 644.8 831 643.9 833 643.4 835 644.0 837 644.6 839 644.9 841 645.1 843 645.6 845 646.5 847 647.7 849 648.7 851 649.0 853 649.2 855 649.1 857 648.5 859 648.2 861 647.9 863 647.9 865 647.9 867 648.3 869 648.6 871 648.9 873 649.3 875 649.8 877 650.6 879 651.7 881 652.8 883 654.2 885 655.8 887 657.4 889 659.4 891 661.6 893 664.7 895 667.6 897 669.5 899 671.4 901 673.1 903 674.0 905 674.4 907 674.9 909 676.0 911 677.2 913 678.0 915 678.4 917 678.3 919 678.1 921 677.2 923 676.3 925 675.1 927 673.7 929 672.7 931 672.1 933 671.2 935 670.4 937 669.5 939 669.0 941 668.4 943 667.6 945 666.6 947 665.7 949 664.8 951 663.9 953 662.8 955 661.8 957 660.9 959 660.3 961 659.8 963 658.9 965 657.8 967 656.7 969 655.6 971 654.8 973 653.9 975 652.9 977 652.3 979 651.7 981 650.9 983 650.2 985 649.3 987 648.4 989 647.2 991 645.9 993 645.0 995 644.3 997 643.5 999 642.8 1001 642.1 1003 641.6 1005 641.4 1007 641.1 1009 640.8 1011 640.3 1013 640.1 1015 639.7 1017 639.3 1019 639.0 1021 639.0 1023 639.2 1025 639.4 1027 639.7 1029 639.8 1031 640.1 1033 640.3 1035 639.8 1037 639.6 1039 639.3 1041 638.9 1043 638.5 1045 638.0 1047 637.6 1049 637.4 1051 637.2 1053 636.7 1055 636.2 1057 635.7 1059 635.1 1061 634.9 1063 634.5 1065 633.7 1067 632.7 1069 631.0 1071 629.4 1073 627.8 1075 626.1 1077 624.5 1079 623.2 1081 622.0 1083 620.7 1085 619.3 1087 618.0 1089 617.0 1091 615.7 1093 614.2 1095 612.6 1097 611.0 1099 609.8 1101 608.8 1103 608.0 1105 607.2 1107 606.5 1109 605.7 1111 605.2 1113 604.7 1115 603.9 1117 602.7 1119 601.7 1121 600.9 1123 600.2 1125 599.9 1127 600.0 1129 600.5 1131 601.0 1133 601.7 1135 602.2 1137 603.0 1139 603.7 1141 604.5 1143 605.9 1145 607.5 1147 609.3 1149 611.0 1151 612.6 1153 614.4 1155 616.2 1157 618.3 1159 620.6 1161 623.1 1163 625.0 1165 627.1 1167 629.3 1169 632.0 1171 634.7 1173 637.3 1175 639.8 1177 642.3 1179 644.6 1181 646.7 1183 648.9 1185 651.5 1187 654.3 1189 657.2 1191 660.0 1193 662.8 1195 665.9 1197 669.2 1199 672.6 1201 675.9 1203 678.8 1205 681.6 1207 684.1 1209 686.3 1211 688.4 1213 690.6 1215 692.6 1217 694.3 1219 696.2 1221 698.2 1223 699.9 1225 701.6 1227 703.1 1229 704.5 1231 706.3 1233 708.3 1235 710.4 1237 712.4 1239 714.3 1241 716.2 1243 718.1 1245 720.1 1247 722.4 1249 725.0 1251 727.3 1253 729.5 1255 731.7 1257 733.6 1259 735.7 1261 737.7 1263 739.7 1265 742.1 1267 744.8 1269 747.5 1271 750.3 1273 752.8 1275 754.9 1277 756.6 1279 758.3 1281 760.2 1283 762.3 1285 764.4 1287 766.1 1289 767.9 1291 769.7 1293 771.4 1295 773.1 1297 774.5 1299 775.9 1301 777.3 1303 778.7 1305 780.1 1307 781.5 1309 782.9 1311 784.1 1313 785.3 1315 786.4 1317 787.4 1319 788.6 1321 789.7 1323 790.9 1325 791.9 1327 793.0 1329 793.8 1331 794.7 1333 795.5 1335 796.2 1337 796.5 1339 796.3 1341 795.8 1343 795.3 1345 794.7 1347 794.2 1349 793.7 1351 793.2 1353 792.7 1355 792.5 1357 791.9 1359 791.2 1361 791.1 1363 791.8 1365 792.7 1367 793.2 1369 793.9 1371 794.6 1373 795.2 1375 795.5 1377 796.3 1379 797.1 1381 798.0 1383 798.7 1385 799.7 1387 800.6 1389 801.3 1391 801.9 1393 802.4 1395 802.9 1397 803.4 1399 803.9 1401 804.2 1403 804.4 1405 804.7 1407 804.9 1409 805.2 1411 805.0 1413 804.8 1415 804.8 1417 804.9 1419 804.6 1421 804.2 1423 803.9 1425 803.4 1427 802.8 1429 802.2 1431 801.3 1433 800.3 1435 799.3 1437 798.4 1439 797.8 1441 797.4 1443 796.9 1445 796.1 1447 794.7 1449 793.0 1451 791.4 1453 789.9 1455 788.4 1457 786.9 1459 785.4 1461 784.2 1463 783.0 1465 782.1 1467 781.1 1469 780.3 1471 779.7 1473 779.1 1475 778.6 1477 777.9 1479 777.4 1481 776.8 1483 775.9 1485 775.0 1487 774.4 1489 773.5 1491 772.6 1493 771.8 1495 771.1 1497 770.5 1499 769.4 1501 769.7 1503 771.0 1505 772.0 1507 773.2 1509 774.2 1511 773.6 1513 771.8 1515 770.2 1517 768.6 1519 767.5 1521 766.4 1523 765.4 1525 764.6 1527 763.4 1529 762.1 1531 760.9 1533 759.7 1535 758.5 1537 757.4 1539 756.1 1541 755.2 1543 754.5 1545 753.7 1547 752.9 1549 752.1 1551 751.2 1553 750.3 1555 749.4 1557 748.5 1559 747.7 1561 746.9 1563 746.1 1565 745.1 1567 744.2 1569 743.3 1571 742.4 1573 741.6 1575 740.8 1577 739.9 1579 739.7 1581 738.8 1583 738.1 1585 737.5 1587 737.1 1589 736.5 1591 735.9 1593 735.3 1595 734.6 1597 733.9 1599 733.2 1601 732.6 1603 732.5 1605 732.0 1607 731.7 1609 731.6 1611 731.5 1613 731.3 1615 730.9 1617 730.6 1619 730.6 1621 730.2 1623 729.6 1625 729.1 1627 728.5" stroke="#4169e1" stroke-width="3.3" fill="none" stroke-linejoin="round" stroke-linecap="square" shape-rendering="crispEdges"/>
<path d="M3 301.2 5 303.8 7 306.9 9 309.2 11 311.4 13 313.0 15 314.4 17 315.5 19 316.8 21 317.8 23 318.8 25 320.1 27 321.0 29 321.7 31 322.4 33 322.5 35 322.6 37 323.2 39 322.8 41 322.3 43 321.5 45 320.9 47 320.3 49 319.7 51 319.3 53 318.7 55 318.0 57 316.8 59 315.9 61 314.9 63 313.5 65 311.8 67 310.3 69 308.7 71 306.9 73 304.6 75 302.3 77 299.9 79 297.6 81 295.3 83 293.7 85 292.2 87 290.9 89 289.9 91 289.5 93 289.2 95 288.9 97 288.7 99 288.4 101 288.1 103 287.7 105 287.8 107 288.1 109 288.0 111 287.8 113 287.3 115 287.1 117 287.4 119 287.4 121 287.2 123 286.3 125 284.7 127 283.0 129 281.8 131 280.6 133 279.5 135 278.6 137 277.5 139 276.7 141 275.7 143 274.6 145 273.7 147 273.0 149 272.4 151 271.9 153 271.4 155 270.6 157 269.8 159 269.7 161 269.3 163 268.8 165 268.2 167 267.6 169 267.2 171 267.0 173 267.2 175 267.9 177 268.3 179 268.2 181 267.4 183 266.9 185 266.4 187 265.9 189 265.4 191 264.3 193 263.3 195 262.0 197 260.9 199 259.9 201 259.3 203 258.6 205 258.0 207 257.4 209 256.6 211 255.5 213 254.7 215 253.5 217 252.1 219 249.5 221 246.6 223 243.9 225 240.8 227 237.5 229 233.9 231 230.3 233 227.1 235 223.5 237 220.3 239 217.5 241 214.8 243 212.8 245 211.5 247 209.9 249 208.5 251 208.2 253 208.1 255 208.4 257 208.9 259 209.8 261 210.7 263 211.8 265 212.7 267 213.7 269 214.3 271 214.6 273 215.0 275 215.3 277 215.7 279 216.0 281 216.1 283 216.7 285 217.4 287 217.7 289 218.1 291 218.5 293 218.9 295 219.7 297 221.1 299 222.9 301 225.4 303 228.5 305 231.6 307 234.1 309 237.2 311 241.0 313 244.4 315 246.7 317 248.2 319 249.5 321 250.9 323 252.3 325 253.8 327 255.2 329 256.9 331 258.3 333 259.5 335 260.4 337 261.3 339 262.1 341 262.7 343 262.7 345 262.6 347 262.5 349 262.3 351 262.3 353 262.8 355 263.1 357 263.9 359 264.4 361 264.9 363 265.9 365 267.3 367 268.7 369 270.3 371 271.6 373 272.5 375 273.5 377 274.5 379 275.9 381 277.4 383 278.5 385 279.6 387 280.8 389 281.8 391 282.4 393 282.8 395 283.1 397 283.4 399 284.2 401 284.8 403 285.7 405 287.5 407 289.5 409 291.1 411 292.6 413 293.7 415 294.8 417 295.9 419 297.4 421 298.6 423 299.6 425 300.5 427 301.4 429 302.0 431 301.7 433 301.5 435 301.7 437 302.1 439 303.2 441 304.9 443 306.3 445 307.9 447 309.2 449 310.5 451 312.0 453 313.7 455 315.4 457 317.0 459 318.3 461 319.4 463 319.9 465 320.3 467 320.9 469 321.7 471 322.5 473 323.6 475 324.3 477 325.0 479 325.5 481 325.6 483 326.4 485 327.3 487 327.8 489 327.6 491 326.7 493 326.2 495 325.8 497 325.2 499 325.5 501 326.0 503 326.7 505 326.8 507 327.1 509 327.6 511 328.5 513 329.0 515 329.6 517 330.2 519 331.0 521 331.4 523 331.6 525 332.6 527 335.0 529 337.7 531 339.9 533 342.3 535 344.4 537 346.5 539 349.1 541 351.9 543 354.8 545 357.2 547 359.1 549 360.9 551 362.7 553 364.9 555 367.5 557 369.4 559 371.7 561 374.0 563 376.0 565 377.2 567 378.5 569 380.0 571 381.5 573 382.4 575 383.4 577 384.6 579 385.4 581 386.0 583 386.4 585 387.8 587 390.2 589 393.4 591 395.9 593 398.3 595 401.3 597 404.0 599 406.5 601 409.4 603 412.6 605 416.5 607 420.3 609 424.0 611 427.6 613 431.0 615 434.3 617 437.5 619 440.1 621 442.9 623 445.3 625 447.6 627 449.8 629 451.5 631 453.4 633 455.8 635 458.8 637 462.2 639 465.4 641 468.7 643 472.3 645 475.7 647 479.7 649 483.9 651 488.0 653 492.5 655 497.3 657 502.2 659 506.8 661 511.3 663 514.6 665 517.7 667 520.6 669 524.4 671 528.6 673 532.7 675 535.8 677 538.5 679 541.0 681 543.7 683 547.1 685 550.2 687 553.8 689 556.7 691 559.9 693 563.0 695 565.8 697 568.5 699 571.0 701 573.6 703 576.4 705 578.7 707 581.0 709 582.7 711 583.8 713 584.8 715 585.6 717 586.4 719 587.7 721 588.6 723 589.3 725 590.0 727 591.0 729 593.1 731 595.4 733 597.6 735 600.0 737 602.0 739 603.6 741 604.7 743 605.8 745 607.1 747 608.2 749 609.0 751 609.1 753 608.8 755 608.3 757 607.2 759 606.6 761 606.9 763 607.7 765 608.4 767 608.2 769 607.4 771 607.2 773 608.2 775 609.1 777 610.1 779 611.2 781 612.6 783 614.4 785 616.8 787 619.1 789 621.7 791 624.5 793 626.9 795 629.2 797 631.0 799 632.9 801 634.8 803 635.8 805 636.3 807 636.5 809 636.4 811 636.5 813 637.1 815 637.6 817 637.9 819 638.4 821 638.8 823 638.6 825 638.5 827 638.7 829 638.3 831 637.6 833 637.3 835 638.0 837 638.7 839 639.0 841 639.4 843 640.0 845 641.0 847 642.1 849 643.1 851 643.5 853 643.8 855 643.9 857 643.7 859 643.5 861 643.5 863 643.6 865 643.7 867 644.1 869 644.4 871 644.7 873 645.1 875 645.5 877 646.3 879 647.3 881 648.4 883 649.8 885 651.3 887 652.8 889 654.7 891 656.8 893 659.6 895 662.4 897 664.3 899 666.2 901 667.8 903 668.8 905 669.3 907 669.9 909 671.0 911 672.2 913 673.1 915 673.7 917 673.7 919 673.7 921 672.9 923 672.2 925 671.3 927 670.0 929 669.3 931 668.8 933 668.0 935 667.4 937 666.7 939 666.4 941 665.9 943 665.2 945 664.3 947 663.6 949 662.7 951 661.9 953 661.0 955 660.1 957 659.3 959 658.8 961 658.4 963 657.7 965 656.8 967 655.8 969 655.0 971 654.4 973 653.6 975 652.8 977 652.3 979 651.9 981 651.3 983 650.8 985 650.1 987 649.4 989 648.3 991 647.2 993 646.4 995 645.7 997 645.0 999 644.3 1001 643.6 1003 643.2 1005 642.9 1007 642.6 1009 642.2 1011 641.7 1013 641.4 1015 641.0 1017 640.6 1019 640.2 1021 640.2 1023 640.3 1025 640.4 1027 640.7 1029 640.8 1031 641.0 1033 641.2 1035 640.8 1037 640.5 1039 640.3 1041 640.0 1043 639.7 1045 639.2 1047 639.0 1049 638.8 1051 638.7 1053 638.3 1055 638.0 1057 637.6 1059 637.1 1061 636.9 1063 636.7 1065 636.0 1067 635.2 1069 633.7 1071 632.3 1073 630.8 1075 629.3 1077 627.9 1079 626.6 1081 625.5 1083 624.3 1085 622.9 1087 621.7 1089 620.7 1091 619.4 1093 617.9 1095 616.3 1097 614.8 1099 613.6 1101 612.5 1103 611.6 1105 610.8 1107 610.0 1109 609.2 1111 608.5 1113 608.0 1115 607.2 1117 606.0 1119 605.0 1121 604.2 1123 603.6 1125 603.2 1127 603.2 1129 603.6 1131 603.9 1133 604.4 1135 604.9 1137 605.5 1139 606.2 1141 607.0 1143 608.3 1145 609.9 1147 611.5 1149 613.1 1151 614.6 1153 616.3 1155 618.0 1157 620.0 1159 622.2 1161 624.5 1163 626.2 1165 628.1 1167 630.1 1169 632.5 1171 634.9 1173 637.2 1175 639.4 1177 641.5 1179 643.6 1181 645.3 1183 647.2 1185 649.4 1187 651.8 1189 654.3 1191 656.7 1193 659.3 1195 662.1 1197 665.0 1199 668.1 1201 671.1 1203 673.8 1205 676.3 1207 678.6 1209 680.6 1211 682.7 1213 684.8 1215 686.8 1217 688.5 1219 690.5 1221 692.4 1223 694.0 1225 695.7 1227 697.1 1229 698.3 1231 700.0 1233 701.9 1235 704.0 1237 705.9 1239 707.8 1241 709.6 1243 711.5 1245 713.3 1247 715.4 1249 717.8 1251 719.9 1253 722.0 1255 724.2 1257 726.1 1259 728.2 1261 730.1 1263 732.1 1265 734.4 1267 736.9 1269 739.4 1271 742.1 1273 744.5 1275 746.5 1277 748.2 1279 749.9 1281 751.7 1283 753.8 1285 755.8 1287 757.4 1289 759.2 1291 761.0 1293 762.6 1295 764.3 1297 765.7 1299 767.1 1301 768.5 1303 769.9 1305 771.4 1307 772.9 1309 774.3 1311 775.5 1313 776.9 1315 778.0 1317 779.0 1319 780.2 1321 781.5 1323 782.7 1325 783.8 1327 784.9 1329 785.9 1331 786.8 1333 787.8 1335 788.5 1337 789.0 1339 789.0 1341 788.8 1343 788.5 1345 788.2 1347 788.0 1349 787.8 1351 787.5 1353 787.1 1355 787.0 1357 786.6 1359 786.1 1361 786.2 1363 787.0 1365 787.9 1367 788.5 1369 789.2 1371 789.9 1373 790.5 1375 790.8 1377 791.6 1379 792.4 1381 793.3 1383 794.1 1385 795.0 1387 796.0 1389 796.7 1391 797.3 1393 797.9 1395 798.5 1397 799.0 1399 799.6 1401 800.0 1403 800.4 1405 800.7 1407 801.2 1409 801.5 1411 801.5 1413 801.5 1415 801.5 1417 801.6 1419 801.4 1421 801.1 1423 800.9 1425 800.6 1427 800.1 1429 799.6 1431 798.9 1433 798.0 1435 797.1 1437 796.3 1439 795.8 1441 795.5 1443 795.0 1445 794.4 1447 793.3 1449 791.9 1451 790.5 1453 789.3 1455 788.0 1457 786.7 1459 785.3 1461 784.3 1463 783.3 1465 782.5 1467 781.6 1469 781.0 1471 780.5 1473 780.0 1475 779.5 1477 778.9 1479 778.4 1481 777.9 1483 777.2 1485 776.4 1487 775.8 1489 775.0 1491 774.2 1493 773.6 1495 773.0 1497 772.5 1499 771.5 1501 771.8 1503 772.9 1505 773.8 1507 774.8 1509 775.7 1511 775.1 1513 773.5 1515 772.0 1517 770.5 1519 769.5 1521 768.4 1523 767.4 1525 766.5 1527 765.3 1529 764.0 1531 762.8 1533 761.7 1535 760.5 1537 759.4 1539 758.2 1541 757.4 1543 756.6 1545 755.9 1547 755.1 1549 754.3 1551 753.5 1553 752.6 1555 751.7 1557 750.9 1559 750.1 1561 749.3 1563 748.5 1565 747.6 1567 746.7 1569 745.8 1571 745.0 1573 744.1 1575 743.3 1577 742.4 1579 742.1 1581 741.3 1583 740.6 1585 740.0 1587 739.5 1589 738.9 1591 738.3 1593 737.6 1595 737.0 1597 736.3 1599 735.6 1601 734.9 1603 734.8 1605 734.3 1607 734.0 1609 733.9 1611 733.7 1613 733.5 1615 733.2 1617 732.9 1619 732.9 1621 732.6 1623 732.0 1625 731.5 1627 730.9" stroke="#ff0000" stroke-width="3.3" fill="none" stroke-linejoin="round" stroke-linecap="square" shape-rendering="crispEdges"/>
<g shape-rendering="crispEdges" fill="#000"><rect x="2" y="2" width="1629" height="1"/><rect x="2" y="2" width="1" height="885"/><rect x="1630" y="2" width="1" height="885"/><rect x="2" y="886" width="1629" height="1"/><rect x="1631" y="21" width="2" height="1"/><rect x="1631" y="57" width="2" height="1"/><rect x="1631" y="93" width="2" height="1"/><rect x="1631" y="128" width="2" height="1"/><rect x="1631" y="164" width="2" height="1"/><rect x="1631" y="200" width="2" height="1"/><rect x="1631" y="236" width="2" height="1"/><rect x="1631" y="272" width="2" height="1"/><rect x="1631" y="307" width="2" height="1"/><rect x="1631" y="343" width="2" height="1"/><rect x="1631" y="379" width="2" height="1"/><rect x="1631" y="415" width="2" height="1"/><rect x="1631" y="451" width="2" height="1"/><rect x="1631" y="486" width="2" height="1"/><rect x="1631" y="522" width="2" height="1"/><rect x="1631" y="558" width="2" height="1"/><rect x="1631" y="594" width="2" height="1"/><rect x="1631" y="630" width="2" height="1"/><rect x="1631" y="665" width="2" height="1"/><rect x="1631" y="701" width="2" height="1"/><rect x="1631" y="737" width="2" height="1"/><rect x="1631" y="773" width="2" height="1"/><rect x="1631" y="809" width="2" height="1"/><rect x="1631" y="844" width="2" height="1"/><rect x="1631" y="880" width="2" height="1"/><rect x="3" y="887" width="1" height="3"/><rect x="67" y="887" width="1" height="3"/><rect x="131" y="887" width="1" height="3"/><rect x="195" y="887" width="1" height="3"/><rect x="259" y="887" width="1" height="3"/><rect x="323" y="887" width="1" height="3"/><rect x="387" y="887" width="1" height="3"/><rect x="451" y="887" width="1" height="3"/><rect x="515" y="887" width="1" height="3"/><rect x="579" y="887" width="1" height="3"/><rect x="643" y="887" width="1" height="3"/><rect x="707" y="887" width="1" height="3"/><rect x="771" y="887" width="1" height="3"/><rect x="835" y="887" width="1" height="3"/><rect x="899" y="887" width="1" height="3"/><rect x="963" y="887" width="1" height="3"/><rect x="1027" y="887" width="1" height="3"/><rect x="1091" y="887" width="1" height="3"/><rect x="1155" y="887" width="1" height="3"/><rect x="1219" y="887" width="1" height="3"/><rect x="1283" y="887" width="1" height="3"/><rect x="1347" y="887" width="1" height="3"/><rect x="1411" y="887" width="1" height="3"/><rect x="1475" y="887" width="1" height="3"/><rect x="1539" y="887" width="1" height="3"/><rect x="1603" y="887" width="1" height="3"/></g>
<text x="1636.5" y="25" textLength="32.5" lengthAdjust="spacingAndGlyphs">154.475</text><text x="1636.5" y="61" textLength="32.5" lengthAdjust="spacingAndGlyphs">154.445</text><text x="1636.5" y="97" textLength="32.5" lengthAdjust="spacingAndGlyphs">154.415</text><text x="1636.5" y="132" textLength="32.5" lengthAdjust="spacingAndGlyphs">154.385</text><text x="1636.5" y="168" textLength="32.5" lengthAdjust="spacingAndGlyphs">154.355</text><text x="1636.5" y="204" textLength="32.5" lengthAdjust="spacingAndGlyphs">154.325</text><text x="1636.5" y="240" textLength="32.5" lengthAdjust="spacingAndGlyphs">154.295</text><text x="1636.5" y="276" textLength="32.5" lengthAdjust="spacingAndGlyphs">154.265</text><text x="1636.5" y="311" textLength="32.5" lengthAdjust="spacingAndGlyphs">154.235</text><text x="1636.5" y="347" textLength="32.5" lengthAdjust="spacingAndGlyphs">154.205</text><text x="1636.5" y="383" textLength="32.5" lengthAdjust="spacingAndGlyphs">154.175</text><text x="1636.5" y="419" textLength="32.5" lengthAdjust="spacingAndGlyphs">154.145</text><text x="1636.5" y="455" textLength="32.5" lengthAdjust="spacingAndGlyphs">154.115</text><text x="1636.5" y="490" textLength="32.5" lengthAdjust="spacingAndGlyphs">154.085</text><text x="1636.5" y="526" textLength="32.5" lengthAdjust="spacingAndGlyphs">154.055</text><text x="1636.5" y="562" textLength="32.5" lengthAdjust="spacingAndGlyphs">154.025</text><text x="1636.5" y="598" textLength="32.5" lengthAdjust="spacingAndGlyphs">153.995</text><text x="1636.5" y="634" textLength="32.5" lengthAdjust="spacingAndGlyphs">153.965</text><text x="1636.5" y="669" textLength="32.5" lengthAdjust="spacingAndGlyphs">153.935</text><text x="1636.5" y="705" textLength="32.5" lengthAdjust="spacingAndGlyphs">153.905</text><text x="1636.5" y="741" textLength="32.5" lengthAdjust="spacingAndGlyphs">153.875</text><text x="1636.5" y="777" textLength="32.5" lengthAdjust="spacingAndGlyphs">153.845</text><text x="1636.5" y="813" textLength="32.5" lengthAdjust="spacingAndGlyphs">153.815</text><text x="1636.5" y="848" textLength="32.5" lengthAdjust="spacingAndGlyphs">153.785</text><text x="1636.5" y="884" textLength="32.5" lengthAdjust="spacingAndGlyphs">153.755</text>
<text x="2" y="899" textLength="54" lengthAdjust="spacingAndGlyphs">25 May 2021</text><text x="66" y="899" textLength="58" lengthAdjust="spacingAndGlyphs">25 May 12:03</text><text x="130" y="899" textLength="58" lengthAdjust="spacingAndGlyphs">25 May 12:35</text><text x="194" y="899" textLength="58" lengthAdjust="spacingAndGlyphs">25 May 13:07</text><text x="258" y="899" textLength="58" lengthAdjust="spacingAndGlyphs">25 May 13:39</text><text x="322" y="899" textLength="58" lengthAdjust="spacingAndGlyphs">25 May 14:11</text><text x="386" y="899" textLength="58" lengthAdjust="spacingAndGlyphs">25 May 14:43</text><text x="450" y="899" textLength="58" lengthAdjust="spacingAndGlyphs">25 May 15:15</text><text x="514" y="899" textLength="58" lengthAdjust="spacingAndGlyphs">25 May 15:47</text><text x="578" y="899" textLength="58" lengthAdjust="spacingAndGlyphs">25 May 16:19</text><text x="642" y="899" textLength="58" lengthAdjust="spacingAndGlyphs">25 May 16:51</text><text x="706" y="899" textLength="58" lengthAdjust="spacingAndGlyphs">25 May 17:23</text><text x="770" y="899" textLength="58" lengthAdjust="spacingAndGlyphs">25 May 17:55</text><text x="834" y="899" textLength="58" lengthAdjust="spacingAndGlyphs">25 May 18:27</text><text x="898" y="899" textLength="58" lengthAdjust="spacingAndGlyphs">25 May 18:59</text><text x="962" y="899" textLength="58" lengthAdjust="spacingAndGlyphs">25 May 19:31</text><text x="1026" y="899" textLength="58" lengthAdjust="spacingAndGlyphs">25 May 20:03</text><text x="1090" y="899" textLength="58" lengthAdjust="spacingAndGlyphs">25 May 20:35</text><text x="1154" y="899" textLength="58" lengthAdjust="spacingAndGlyphs">25 May 21:07</text><text x="1218" y="899" textLength="58" lengthAdjust="spacingAndGlyphs">25 May 21:39</text><text x="1282" y="899" textLength="58" lengthAdjust="spacingAndGlyphs">25 May 22:11</text><text x="1346" y="899" textLength="58" lengthAdjust="spacingAndGlyphs">25 May 22:43</text><text x="1410" y="899" textLength="58" lengthAdjust="spacingAndGlyphs">25 May 23:15</text><text x="1474" y="899" textLength="58" lengthAdjust="spacingAndGlyphs">25 May 23:47</text><text x="1538" y="899" textLength="58" lengthAdjust="spacingAndGlyphs">26 May 00:19</text><text x="1602" y="899" textLength="58" lengthAdjust="spacingAndGlyphs">26 May 00:56</text>
<path d="M6 9h7l-3.5 4z" fill="#000"/><text y="14"><tspan x="18" textLength="50.6" lengthAdjust="spacingAndGlyphs">GBPJPY,M1</tspan> <tspan x="75.9" textLength="31.7" lengthAdjust="spacingAndGlyphs">153.899</tspan> <tspan x="111.6" textLength="31.7" lengthAdjust="spacingAndGlyphs">153.902</tspan> <tspan x="147.6" textLength="31.7" lengthAdjust="spacingAndGlyphs">153.898</tspan> <tspan x="183.6" textLength="31.9" lengthAdjust="spacingAndGlyphs">153.900</tspan></text>
<rect x="1632" y="702" width="41" height="11" fill="#000" shape-rendering="crispEdges"/><text x="1637" y="711" textLength="32" lengthAdjust="spacingAndGlyphs" style="fill:#fff;stroke:#fff">153.900</text>
</svg>
</body></html>
